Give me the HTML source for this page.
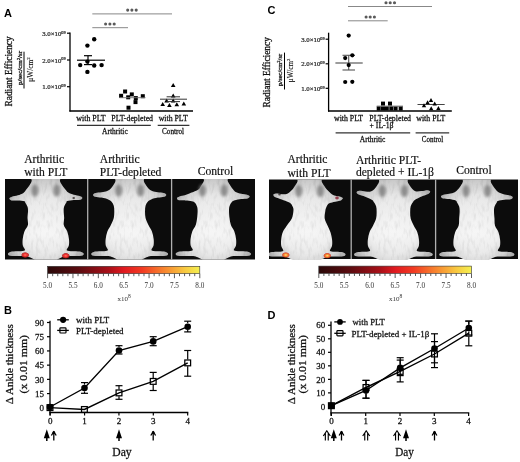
<!DOCTYPE html><html><head><meta charset="utf-8"><style>html,body{margin:0;padding:0;background:#fff;width:520px;height:462px;overflow:hidden;}svg{display:block;will-change:transform;filter:blur(0.3px)}</style></head><body>
<svg width="520" height="462" viewBox="0 0 520 462">
<defs>
<linearGradient id="cbar" x1="0" x2="1" y1="0" y2="0">
<stop offset="0" stop-color="#2a0808"/>
<stop offset="0.2" stop-color="#5a0c10"/>
<stop offset="0.4" stop-color="#a81018"/>
<stop offset="0.5" stop-color="#e01a20"/>
<stop offset="0.62" stop-color="#f23a22"/>
<stop offset="0.78" stop-color="#f88c30"/>
<stop offset="0.9" stop-color="#f8c840"/>
<stop offset="1" stop-color="#f4f050"/>
</linearGradient>
<radialGradient id="spot" cx="0.5" cy="0.5" r="0.5">
<stop offset="0" stop-color="#ff7a60"/>
<stop offset="0.45" stop-color="#f03030"/>
<stop offset="0.8" stop-color="#b81818" stop-opacity="0.8"/>
<stop offset="1" stop-color="#801010" stop-opacity="0"/>
</radialGradient>
<radialGradient id="spot2" cx="0.5" cy="0.5" r="0.5">
<stop offset="0" stop-color="#ffe080"/>
<stop offset="0.4" stop-color="#f89030"/>
<stop offset="0.75" stop-color="#e04020" stop-opacity="0.85"/>
<stop offset="1" stop-color="#a02010" stop-opacity="0"/>
</radialGradient>
<linearGradient id="body" x1="0" x2="0" y1="0" y2="1">
<stop offset="0" stop-color="#dedede"/>
<stop offset="0.35" stop-color="#eeeeee"/>
<stop offset="0.7" stop-color="#f7f7f7"/>
<stop offset="1" stop-color="#ebebeb"/>
</linearGradient>
<radialGradient id="edge" cx="0.5" cy="0.6" r="0.55">
<stop offset="0" stop-color="#000" stop-opacity="0"/>
<stop offset="0.55" stop-color="#000" stop-opacity="0.02"/>
<stop offset="0.85" stop-color="#000" stop-opacity="0.12"/>
<stop offset="1" stop-color="#000" stop-opacity="0.25"/>
</radialGradient>
<filter id="fur" x="0" y="0" width="100%" height="100%" filterUnits="userSpaceOnUse">
<feTurbulence type="fractalNoise" baseFrequency="0.35 0.12" numOctaves="2" seed="7" result="n"/>
<feColorMatrix in="n" type="matrix" values="0 0 0 0 0  0 0 0 0 0  0 0 0 0 0  1.6 0 0 0 -0.75" result="a"/>
<feComposite in="a" in2="SourceGraphic" operator="in" result="c"/>
<feGaussianBlur in="c" stdDeviation="0.4"/>
</filter>
<filter id="blur" x="-10%" y="-10%" width="120%" height="120%"><feGaussianBlur stdDeviation="0.7"/></filter>
<filter id="blur2" x="-50%" y="-50%" width="200%" height="200%"><feGaussianBlur stdDeviation="1.5"/></filter>
<clipPath id="pc"><rect x="0" y="0" width="83" height="80.5"/></clipPath>

</defs>
<text x="4" y="17" style="font-family:'Liberation Sans',sans-serif;font-size:11px;font-weight:bold" fill="#000" text-anchor="start" >A</text>
<text transform="translate(12,71.4) rotate(-90)" x="0" y="0" style="font-family:'Liberation Serif',serif;font-size:9.5px" fill="#111" text-anchor="middle" textLength="70" lengthAdjust="spacingAndGlyphs" stroke="#111" stroke-width="0.28">Radiant Efficiency</text>
<text transform="translate(21.8,68) rotate(-90)" x="0" y="0" style="font-family:'Liberation Serif',serif;font-size:6.5px" fill="#111" text-anchor="middle" textLength="34" lengthAdjust="spacingAndGlyphs" stroke="#111" stroke-width="0.28">p/sec/cm<tspan dy="-2" font-size="4.5">2</tspan><tspan dy="2">/sr</tspan></text>
<line x1="24" y1="51.7" x2="24" y2="88.5" stroke="#000" stroke-width="1.0"/>
<text transform="translate(32.8,69.5) rotate(-90)" x="0" y="0" style="font-family:'Liberation Serif',serif;font-size:7.6px" fill="#111" text-anchor="middle" textLength="24.5" lengthAdjust="spacingAndGlyphs" stroke="#111" stroke-width="0.12">&#956;W/cm<tspan dy="-2.5" font-size="5">2</tspan></text>
<line x1="70" y1="32.5" x2="70" y2="111.6" stroke="#000" stroke-width="1.3"/>
<line x1="69.4" y1="111" x2="193" y2="111" stroke="#000" stroke-width="1.3"/>
<line x1="67" y1="33.2" x2="70" y2="33.2" stroke="#000" stroke-width="1.2"/>
<text x="65.5" y="35.800000000000004" style="font-family:'Liberation Serif',serif;font-size:6.8px" fill="#222" stroke="#222" stroke-width="0.22" text-anchor="end">3.0&#215;10<tspan dy="-2.3" font-size="4.2">09</tspan></text>
<line x1="67" y1="60.0" x2="70" y2="60.0" stroke="#000" stroke-width="1.2"/>
<text x="65.5" y="62.6" style="font-family:'Liberation Serif',serif;font-size:6.8px" fill="#222" stroke="#222" stroke-width="0.22" text-anchor="end">2.0&#215;10<tspan dy="-2.3" font-size="4.2">09</tspan></text>
<line x1="67" y1="86.7" x2="70" y2="86.7" stroke="#000" stroke-width="1.2"/>
<text x="65.5" y="89.3" style="font-family:'Liberation Serif',serif;font-size:6.8px" fill="#222" stroke="#222" stroke-width="0.22" text-anchor="end">1.0&#215;10<tspan dy="-2.3" font-size="4.2">09</tspan></text>
<line x1="92.3" y1="13.9" x2="172" y2="13.9" stroke="#888" stroke-width="1.0"/>
<line x1="92.3" y1="27.7" x2="128" y2="27.7" stroke="#888" stroke-width="1.0"/>
<circle cx="127.7" cy="10.1" r="1.55" fill="#5a5a5a" stroke="none" stroke-width="0"/>
<circle cx="131.9" cy="10.1" r="1.55" fill="#5a5a5a" stroke="none" stroke-width="0"/>
<circle cx="136.2" cy="10.1" r="1.55" fill="#5a5a5a" stroke="none" stroke-width="0"/>
<circle cx="105.6" cy="24" r="1.55" fill="#5a5a5a" stroke="none" stroke-width="0"/>
<circle cx="109.9" cy="24" r="1.55" fill="#5a5a5a" stroke="none" stroke-width="0"/>
<circle cx="114.2" cy="24" r="1.55" fill="#5a5a5a" stroke="none" stroke-width="0"/>
<circle cx="94.2" cy="39.2" r="2.2" fill="#000" stroke="none" stroke-width="0"/>
<circle cx="87.4" cy="45.6" r="2.2" fill="#000" stroke="none" stroke-width="0"/>
<circle cx="87.4" cy="61.6" r="2.2" fill="#000" stroke="none" stroke-width="0"/>
<circle cx="80.2" cy="65.1" r="2.2" fill="#000" stroke="none" stroke-width="0"/>
<circle cx="94.2" cy="65.5" r="2.2" fill="#000" stroke="none" stroke-width="0"/>
<circle cx="101.6" cy="65.1" r="2.2" fill="#000" stroke="none" stroke-width="0"/>
<circle cx="87.4" cy="71.9" r="2.2" fill="#000" stroke="none" stroke-width="0"/>
<line x1="77" y1="60.2" x2="105" y2="60.2" stroke="#000" stroke-width="1.2"/>
<line x1="84" y1="55.7" x2="92" y2="55.7" stroke="#000" stroke-width="1.2"/>
<line x1="88" y1="55.7" x2="88" y2="64.6" stroke="#000" stroke-width="1.2"/>
<line x1="84" y1="64.6" x2="92" y2="64.6" stroke="#000" stroke-width="1.2"/>
<rect x="119.1" y="93.8" width="4.0" height="4.0" fill="#000" stroke="none" stroke-width="0"/>
<rect x="123.1" y="89.5" width="4.0" height="4.0" fill="#000" stroke="none" stroke-width="0"/>
<rect x="126.19999999999999" y="95.3" width="4.0" height="4.0" fill="#000" stroke="none" stroke-width="0"/>
<rect x="129.8" y="92.4" width="4.0" height="4.0" fill="#000" stroke="none" stroke-width="0"/>
<rect x="133.8" y="96.1" width="4.0" height="4.0" fill="#000" stroke="none" stroke-width="0"/>
<rect x="133.5" y="100.1" width="4.0" height="4.0" fill="#000" stroke="none" stroke-width="0"/>
<rect x="140.8" y="94.2" width="4.0" height="4.0" fill="#000" stroke="none" stroke-width="0"/>
<rect x="126.5" y="105.7" width="4.0" height="4.0" fill="#000" stroke="none" stroke-width="0"/>
<line x1="119.5" y1="97.7" x2="145.5" y2="97.7" stroke="#777" stroke-width="0.9"/>
<polygon points="173.2,82.9 175.5,86.9 170.89999999999998,86.9" fill="#000"/>
<polygon points="173.2,93.4 175.5,97.4 170.89999999999998,97.4" fill="#000"/>
<polygon points="166.6,98.6 168.9,102.6 164.29999999999998,102.6" fill="#000"/>
<polygon points="173.2,98.4 175.5,102.4 170.89999999999998,102.4" fill="#000"/>
<polygon points="162.7,101.9 165.0,105.9 160.39999999999998,105.9" fill="#000"/>
<polygon points="169.4,102.9 171.70000000000002,106.9 167.1,106.9" fill="#000"/>
<polygon points="176.8,102.3 179.10000000000002,106.3 174.5,106.3" fill="#000"/>
<polygon points="183.8,101.5 186.10000000000002,105.5 181.5,105.5" fill="#000"/>
<line x1="160" y1="99.2" x2="187" y2="99.2" stroke="#333" stroke-width="1.0"/>
<line x1="166.6" y1="96.8" x2="180" y2="96.8" stroke="#333" stroke-width="1.0"/>
<line x1="166.6" y1="101.6" x2="180" y2="101.6" stroke="#333" stroke-width="1.0"/>
<text x="91" y="120.8" style="font-family:'Liberation Serif',serif;font-size:8px;font-weight:normal" fill="#111" text-anchor="middle" textLength="29.3" lengthAdjust="spacingAndGlyphs"  stroke="#111" stroke-width="0.26">with PLT</text>
<text x="132.2" y="120.8" style="font-family:'Liberation Serif',serif;font-size:8px;font-weight:normal" fill="#111" text-anchor="middle" textLength="41.7" lengthAdjust="spacingAndGlyphs"  stroke="#111" stroke-width="0.26">PLT-depleted</text>
<text x="173.2" y="120.8" style="font-family:'Liberation Serif',serif;font-size:8px;font-weight:normal" fill="#111" text-anchor="middle" textLength="29" lengthAdjust="spacingAndGlyphs"  stroke="#111" stroke-width="0.26">with PLT</text>
<line x1="77" y1="125.3" x2="150.8" y2="125.3" stroke="#333" stroke-width="1.3"/>
<line x1="157.7" y1="125.3" x2="189.4" y2="125.3" stroke="#333" stroke-width="1.3"/>
<text x="114.9" y="133.7" style="font-family:'Liberation Serif',serif;font-size:8px;font-weight:normal" fill="#111" text-anchor="middle" textLength="25.7" lengthAdjust="spacingAndGlyphs"  stroke="#111" stroke-width="0.26">Arthritic</text>
<text x="173" y="133.7" style="font-family:'Liberation Serif',serif;font-size:8px;font-weight:normal" fill="#111" text-anchor="middle" textLength="22" lengthAdjust="spacingAndGlyphs"  stroke="#111" stroke-width="0.26">Control</text>
<text x="267.5" y="13.5" style="font-family:'Liberation Sans',sans-serif;font-size:11px;font-weight:bold" fill="#000" text-anchor="start" >C</text>
<text transform="translate(270.2,72.3) rotate(-90)" x="0" y="0" style="font-family:'Liberation Serif',serif;font-size:9.5px" fill="#111" text-anchor="middle" textLength="70.3" lengthAdjust="spacingAndGlyphs" stroke="#111" stroke-width="0.28">Radiant Efficiency</text>
<text transform="translate(282.2,69.9) rotate(-90)" x="0" y="0" style="font-family:'Liberation Serif',serif;font-size:6.5px" fill="#111" text-anchor="middle" textLength="32" lengthAdjust="spacingAndGlyphs" stroke="#111" stroke-width="0.28">p/sec/cm<tspan dy="-2" font-size="4.5">2</tspan><tspan dy="2">/sr</tspan></text>
<line x1="284.5" y1="52.6" x2="284.5" y2="89.5" stroke="#000" stroke-width="1.0"/>
<text transform="translate(292.8,70.4) rotate(-90)" x="0" y="0" style="font-family:'Liberation Serif',serif;font-size:7.6px" fill="#111" text-anchor="middle" textLength="23.5" lengthAdjust="spacingAndGlyphs" stroke="#111" stroke-width="0.12">&#956;W/cm<tspan dy="-2.5" font-size="5">2</tspan></text>
<line x1="328.6" y1="32.7" x2="328.6" y2="111.6" stroke="#000" stroke-width="1.3"/>
<line x1="328" y1="111" x2="451.8" y2="111" stroke="#000" stroke-width="1.3"/>
<line x1="325.6" y1="39.2" x2="328.6" y2="39.2" stroke="#000" stroke-width="1.2"/>
<text x="324.5" y="41.800000000000004" style="font-family:'Liberation Serif',serif;font-size:6.8px" fill="#222" stroke="#222" stroke-width="0.22" text-anchor="end">3.0&#215;10<tspan dy="-2.3" font-size="4.2">09</tspan></text>
<line x1="325.6" y1="63.8" x2="328.6" y2="63.8" stroke="#000" stroke-width="1.2"/>
<text x="324.5" y="66.39999999999999" style="font-family:'Liberation Serif',serif;font-size:6.8px" fill="#222" stroke="#222" stroke-width="0.22" text-anchor="end">2.0&#215;10<tspan dy="-2.3" font-size="4.2">09</tspan></text>
<line x1="325.6" y1="88.3" x2="328.6" y2="88.3" stroke="#000" stroke-width="1.2"/>
<text x="324.5" y="90.89999999999999" style="font-family:'Liberation Serif',serif;font-size:6.8px" fill="#222" stroke="#222" stroke-width="0.22" text-anchor="end">1.0&#215;10<tspan dy="-2.3" font-size="4.2">09</tspan></text>
<line x1="348" y1="6.5" x2="432" y2="6.5" stroke="#888" stroke-width="1.0"/>
<line x1="348" y1="20.8" x2="387.7" y2="20.8" stroke="#888" stroke-width="1.0"/>
<circle cx="386" cy="2.8" r="1.55" fill="#5a5a5a" stroke="none" stroke-width="0"/>
<circle cx="390.2" cy="2.8" r="1.55" fill="#5a5a5a" stroke="none" stroke-width="0"/>
<circle cx="394.5" cy="2.8" r="1.55" fill="#5a5a5a" stroke="none" stroke-width="0"/>
<circle cx="366.1" cy="17" r="1.55" fill="#5a5a5a" stroke="none" stroke-width="0"/>
<circle cx="370.2" cy="17" r="1.55" fill="#5a5a5a" stroke="none" stroke-width="0"/>
<circle cx="374.4" cy="17" r="1.55" fill="#5a5a5a" stroke="none" stroke-width="0"/>
<line x1="335.4" y1="63" x2="362.7" y2="63" stroke="#666" stroke-width="1.3"/>
<line x1="342.5" y1="55.3" x2="355" y2="55.3" stroke="#555" stroke-width="1.1"/>
<line x1="348.7" y1="55.3" x2="348.7" y2="70" stroke="#555" stroke-width="1.1"/>
<line x1="342.5" y1="70" x2="355" y2="70" stroke="#555" stroke-width="1.1"/>
<circle cx="348.7" cy="35.6" r="2.1" fill="#000" stroke="none" stroke-width="0"/>
<circle cx="345.2" cy="58.1" r="2.1" fill="#000" stroke="none" stroke-width="0"/>
<circle cx="352.3" cy="55.3" r="2.1" fill="#000" stroke="none" stroke-width="0"/>
<circle cx="348.7" cy="65.1" r="2.1" fill="#000" stroke="none" stroke-width="0"/>
<circle cx="345.2" cy="82" r="2.1" fill="#000" stroke="none" stroke-width="0"/>
<circle cx="352.3" cy="81.8" r="2.1" fill="#000" stroke="none" stroke-width="0"/>
<rect x="381.0" y="101.6" width="4.0" height="4.0" fill="#000" stroke="none" stroke-width="0"/>
<rect x="388.0" y="101.6" width="4.0" height="4.0" fill="#000" stroke="none" stroke-width="0"/>
<rect x="376.7" y="106.5" width="4.0" height="4.0" fill="#000" stroke="none" stroke-width="0"/>
<rect x="381.0" y="106.5" width="4.0" height="4.0" fill="#000" stroke="none" stroke-width="0"/>
<rect x="384.8" y="106.5" width="4.0" height="4.0" fill="#000" stroke="none" stroke-width="0"/>
<rect x="389.3" y="106.5" width="4.0" height="4.0" fill="#000" stroke="none" stroke-width="0"/>
<rect x="393.6" y="106.5" width="4.0" height="4.0" fill="#000" stroke="none" stroke-width="0"/>
<rect x="398.7" y="106.5" width="4.0" height="4.0" fill="#000" stroke="none" stroke-width="0"/>
<line x1="376.7" y1="106.2" x2="403" y2="106.2" stroke="#555" stroke-width="1.0"/>
<line x1="417.5" y1="104.5" x2="444.7" y2="104.5" stroke="#444" stroke-width="1.0"/>
<polygon points="431,97.9 433.2,101.9 428.8,101.9" fill="#000"/>
<polygon points="427.6,100.2 429.8,104.2 425.40000000000003,104.2" fill="#000"/>
<polygon points="424,103.3 426.2,107.3 421.8,107.3" fill="#000"/>
<polygon points="434.7,101.6 436.9,105.6 432.5,105.6" fill="#000"/>
<polygon points="431.2,106.3 433.4,110.3 429.0,110.3" fill="#000"/>
<polygon points="438.4,106.0 440.59999999999997,110.0 436.2,110.0" fill="#000"/>
<text x="348.5" y="120.8" style="font-family:'Liberation Serif',serif;font-size:8px;font-weight:normal" fill="#111" text-anchor="middle" textLength="29" lengthAdjust="spacingAndGlyphs"  stroke="#111" stroke-width="0.26">with PLT</text>
<text x="390.2" y="120.8" style="font-family:'Liberation Serif',serif;font-size:8px;font-weight:normal" fill="#111" text-anchor="middle" textLength="41.7" lengthAdjust="spacingAndGlyphs"  stroke="#111" stroke-width="0.26">PLT-depleted</text>
<text x="381.5" y="128.2" style="font-family:'Liberation Serif',serif;font-size:8px;font-weight:normal" fill="#111" text-anchor="middle" textLength="24" lengthAdjust="spacingAndGlyphs"  stroke="#111" stroke-width="0.26">+ IL-1&#946;</text>
<text x="430.8" y="120.8" style="font-family:'Liberation Serif',serif;font-size:8px;font-weight:normal" fill="#111" text-anchor="middle" textLength="29" lengthAdjust="spacingAndGlyphs"  stroke="#111" stroke-width="0.26">with PLT</text>
<line x1="335.6" y1="132.8" x2="410.2" y2="132.8" stroke="#333" stroke-width="1.3"/>
<line x1="415.6" y1="132.8" x2="449.2" y2="132.8" stroke="#333" stroke-width="1.3"/>
<text x="372.6" y="141.5" style="font-family:'Liberation Serif',serif;font-size:8px;font-weight:normal" fill="#111" text-anchor="middle" textLength="25.6" lengthAdjust="spacingAndGlyphs"  stroke="#111" stroke-width="0.26">Arthritic</text>
<text x="432.5" y="141.5" style="font-family:'Liberation Serif',serif;font-size:8px;font-weight:normal" fill="#111" text-anchor="middle" textLength="21.5" lengthAdjust="spacingAndGlyphs"  stroke="#111" stroke-width="0.26">Control</text>
<rect x="5" y="179" width="250" height="80.5" fill="#0c0c0c"/>
<g transform="translate(5,179) scale(0.996,1)"><g clip-path="url(#pc)">
<path d="M41.00,-12.00 C36.43,-12.00 29.67,-6.33 27.30,-4.00 C24.93,-1.67 27.22,0.33 26.80,2.00 C26.38,3.67 25.57,4.75 24.80,6.00 C24.03,7.25 23.25,8.18 22.20,9.50 C21.15,10.82 20.03,12.77 18.50,13.90 C16.97,15.03 14.92,15.63 13.00,16.26 C11.08,16.89 8.43,17.16 7.00,17.70 C5.57,18.24 4.48,18.88 4.40,19.50 C4.32,20.12 5.07,21.06 6.50,21.40 C7.93,21.74 10.83,21.41 13.00,21.56 C15.17,21.71 18.27,21.93 19.50,22.30 C20.73,22.67 19.88,22.85 20.40,23.76 C20.92,24.67 22.15,26.39 22.60,27.76 C23.05,29.13 23.10,30.13 23.10,32.00 C23.10,33.87 22.62,36.67 22.60,39.00 C22.58,41.33 23.52,43.75 23.00,46.00 C22.48,48.25 20.37,50.17 19.50,52.50 C18.63,54.83 18.07,57.67 17.80,60.00 C17.53,62.33 17.53,64.62 17.90,66.50 C18.27,68.38 20.61,70.33 20.00,71.30 C19.39,72.27 16.38,72.08 14.25,72.30 C12.12,72.52 9.08,72.28 7.25,72.60 C5.42,72.92 3.75,73.57 3.25,74.20 C2.75,74.83 2.92,75.93 4.25,76.40 C5.58,76.87 8.54,76.90 11.25,77.00 C13.96,77.10 18.21,76.78 20.50,77.00 C22.79,77.22 23.58,77.75 25.00,78.30 C26.42,78.85 27.58,79.52 29.00,80.30 C30.42,81.08 30.25,82.55 33.50,83.00 C36.75,83.45 45.25,83.45 48.50,83.00 C51.75,82.55 51.58,81.08 53.00,80.30 C54.42,79.52 55.58,78.85 57.00,78.30 C58.42,77.75 59.21,77.22 61.50,77.00 C63.79,76.78 68.04,77.10 70.75,77.00 C73.46,76.90 76.42,76.87 77.75,76.40 C79.08,75.93 79.25,74.83 78.75,74.20 C78.25,73.57 76.58,72.92 74.75,72.60 C72.92,72.28 69.88,72.52 67.75,72.30 C65.62,72.08 62.61,72.27 62.00,71.30 C61.39,70.33 63.73,68.38 64.10,66.50 C64.47,64.62 64.47,62.33 64.20,60.00 C63.93,57.67 63.37,54.83 62.50,52.50 C61.63,50.17 59.52,48.25 59.00,46.00 C58.48,43.75 59.42,41.33 59.40,39.00 C59.38,36.67 58.90,33.91 58.90,32.00 C58.90,30.09 58.95,28.96 59.40,27.55 C59.85,26.14 61.08,24.48 61.60,23.55 C62.12,22.62 61.27,22.38 62.50,21.95 C63.73,21.52 66.83,21.21 69.00,21.00 C71.17,20.79 74.07,21.07 75.50,20.70 C76.93,20.33 77.68,19.42 77.60,18.80 C77.52,18.18 76.43,17.52 75.00,17.00 C73.57,16.48 70.92,16.28 69.00,15.70 C67.08,15.13 65.03,14.58 63.50,13.55 C61.97,12.52 60.85,10.76 59.80,9.50 C58.75,8.24 57.97,7.25 57.20,6.00 C56.43,4.75 55.62,3.67 55.20,2.00 C54.78,0.33 57.07,-1.67 54.70,-4.00 C52.33,-6.33 45.57,-12.00 41.00,-12.00 Z" fill="url(#body)" filter="url(#blur)"/>
<path d="M41.00,-12.00 C36.43,-12.00 29.67,-6.33 27.30,-4.00 C24.93,-1.67 27.22,0.33 26.80,2.00 C26.38,3.67 25.57,4.75 24.80,6.00 C24.03,7.25 23.25,8.18 22.20,9.50 C21.15,10.82 20.03,12.77 18.50,13.90 C16.97,15.03 14.92,15.63 13.00,16.26 C11.08,16.89 8.43,17.16 7.00,17.70 C5.57,18.24 4.48,18.88 4.40,19.50 C4.32,20.12 5.07,21.06 6.50,21.40 C7.93,21.74 10.83,21.41 13.00,21.56 C15.17,21.71 18.27,21.93 19.50,22.30 C20.73,22.67 19.88,22.85 20.40,23.76 C20.92,24.67 22.15,26.39 22.60,27.76 C23.05,29.13 23.10,30.13 23.10,32.00 C23.10,33.87 22.62,36.67 22.60,39.00 C22.58,41.33 23.52,43.75 23.00,46.00 C22.48,48.25 20.37,50.17 19.50,52.50 C18.63,54.83 18.07,57.67 17.80,60.00 C17.53,62.33 17.53,64.62 17.90,66.50 C18.27,68.38 20.61,70.33 20.00,71.30 C19.39,72.27 16.38,72.08 14.25,72.30 C12.12,72.52 9.08,72.28 7.25,72.60 C5.42,72.92 3.75,73.57 3.25,74.20 C2.75,74.83 2.92,75.93 4.25,76.40 C5.58,76.87 8.54,76.90 11.25,77.00 C13.96,77.10 18.21,76.78 20.50,77.00 C22.79,77.22 23.58,77.75 25.00,78.30 C26.42,78.85 27.58,79.52 29.00,80.30 C30.42,81.08 30.25,82.55 33.50,83.00 C36.75,83.45 45.25,83.45 48.50,83.00 C51.75,82.55 51.58,81.08 53.00,80.30 C54.42,79.52 55.58,78.85 57.00,78.30 C58.42,77.75 59.21,77.22 61.50,77.00 C63.79,76.78 68.04,77.10 70.75,77.00 C73.46,76.90 76.42,76.87 77.75,76.40 C79.08,75.93 79.25,74.83 78.75,74.20 C78.25,73.57 76.58,72.92 74.75,72.60 C72.92,72.28 69.88,72.52 67.75,72.30 C65.62,72.08 62.61,72.27 62.00,71.30 C61.39,70.33 63.73,68.38 64.10,66.50 C64.47,64.62 64.47,62.33 64.20,60.00 C63.93,57.67 63.37,54.83 62.50,52.50 C61.63,50.17 59.52,48.25 59.00,46.00 C58.48,43.75 59.42,41.33 59.40,39.00 C59.38,36.67 58.90,33.91 58.90,32.00 C58.90,30.09 58.95,28.96 59.40,27.55 C59.85,26.14 61.08,24.48 61.60,23.55 C62.12,22.62 61.27,22.38 62.50,21.95 C63.73,21.52 66.83,21.21 69.00,21.00 C71.17,20.79 74.07,21.07 75.50,20.70 C76.93,20.33 77.68,19.42 77.60,18.80 C77.52,18.18 76.43,17.52 75.00,17.00 C73.57,16.48 70.92,16.28 69.00,15.70 C67.08,15.13 65.03,14.58 63.50,13.55 C61.97,12.52 60.85,10.76 59.80,9.50 C58.75,8.24 57.97,7.25 57.20,6.00 C56.43,4.75 55.62,3.67 55.20,2.00 C54.78,0.33 57.07,-1.67 54.70,-4.00 C52.33,-6.33 45.57,-12.00 41.00,-12.00 Z" fill="url(#edge)" filter="url(#blur)"/>
<path d="M41.00,-12.00 C36.43,-12.00 29.67,-6.33 27.30,-4.00 C24.93,-1.67 27.22,0.33 26.80,2.00 C26.38,3.67 25.57,4.75 24.80,6.00 C24.03,7.25 23.25,8.18 22.20,9.50 C21.15,10.82 20.03,12.77 18.50,13.90 C16.97,15.03 14.92,15.63 13.00,16.26 C11.08,16.89 8.43,17.16 7.00,17.70 C5.57,18.24 4.48,18.88 4.40,19.50 C4.32,20.12 5.07,21.06 6.50,21.40 C7.93,21.74 10.83,21.41 13.00,21.56 C15.17,21.71 18.27,21.93 19.50,22.30 C20.73,22.67 19.88,22.85 20.40,23.76 C20.92,24.67 22.15,26.39 22.60,27.76 C23.05,29.13 23.10,30.13 23.10,32.00 C23.10,33.87 22.62,36.67 22.60,39.00 C22.58,41.33 23.52,43.75 23.00,46.00 C22.48,48.25 20.37,50.17 19.50,52.50 C18.63,54.83 18.07,57.67 17.80,60.00 C17.53,62.33 17.53,64.62 17.90,66.50 C18.27,68.38 20.61,70.33 20.00,71.30 C19.39,72.27 16.38,72.08 14.25,72.30 C12.12,72.52 9.08,72.28 7.25,72.60 C5.42,72.92 3.75,73.57 3.25,74.20 C2.75,74.83 2.92,75.93 4.25,76.40 C5.58,76.87 8.54,76.90 11.25,77.00 C13.96,77.10 18.21,76.78 20.50,77.00 C22.79,77.22 23.58,77.75 25.00,78.30 C26.42,78.85 27.58,79.52 29.00,80.30 C30.42,81.08 30.25,82.55 33.50,83.00 C36.75,83.45 45.25,83.45 48.50,83.00 C51.75,82.55 51.58,81.08 53.00,80.30 C54.42,79.52 55.58,78.85 57.00,78.30 C58.42,77.75 59.21,77.22 61.50,77.00 C63.79,76.78 68.04,77.10 70.75,77.00 C73.46,76.90 76.42,76.87 77.75,76.40 C79.08,75.93 79.25,74.83 78.75,74.20 C78.25,73.57 76.58,72.92 74.75,72.60 C72.92,72.28 69.88,72.52 67.75,72.30 C65.62,72.08 62.61,72.27 62.00,71.30 C61.39,70.33 63.73,68.38 64.10,66.50 C64.47,64.62 64.47,62.33 64.20,60.00 C63.93,57.67 63.37,54.83 62.50,52.50 C61.63,50.17 59.52,48.25 59.00,46.00 C58.48,43.75 59.42,41.33 59.40,39.00 C59.38,36.67 58.90,33.91 58.90,32.00 C58.90,30.09 58.95,28.96 59.40,27.55 C59.85,26.14 61.08,24.48 61.60,23.55 C62.12,22.62 61.27,22.38 62.50,21.95 C63.73,21.52 66.83,21.21 69.00,21.00 C71.17,20.79 74.07,21.07 75.50,20.70 C76.93,20.33 77.68,19.42 77.60,18.80 C77.52,18.18 76.43,17.52 75.00,17.00 C73.57,16.48 70.92,16.28 69.00,15.70 C67.08,15.13 65.03,14.58 63.50,13.55 C61.97,12.52 60.85,10.76 59.80,9.50 C58.75,8.24 57.97,7.25 57.20,6.00 C56.43,4.75 55.62,3.67 55.20,2.00 C54.78,0.33 57.07,-1.67 54.70,-4.00 C52.33,-6.33 45.57,-12.00 41.00,-12.00 Z" fill="#000" opacity="0.1" filter="url(#fur)"/>
<ellipse cx="30" cy="11.5" rx="3.6" ry="6.2" fill="#808080" opacity="0.85" filter="url(#blur2)"/>
<ellipse cx="52" cy="11.5" rx="3.6" ry="6.2" fill="#808080" opacity="0.85" filter="url(#blur2)"/>
</g></g>
<g transform="translate(88.7,179) scale(0.999,1)"><g clip-path="url(#pc)">
<path d="M41.00,-12.00 C36.43,-12.00 29.67,-6.33 27.30,-4.00 C24.93,-1.67 27.22,0.33 26.80,2.00 C26.38,3.67 25.57,4.75 24.80,6.00 C24.03,7.25 23.25,8.49 22.20,9.50 C21.15,10.51 20.03,11.42 18.50,12.05 C16.97,12.68 14.92,12.98 13.00,13.30 C11.08,13.62 8.43,13.58 7.00,14.00 C5.57,14.42 4.48,15.18 4.40,15.80 C4.32,16.42 5.07,17.23 6.50,17.70 C7.93,18.17 10.83,18.14 13.00,18.60 C15.17,19.06 17.85,19.77 19.50,20.45 C21.15,21.12 21.97,21.62 22.90,22.65 C23.83,23.68 24.65,25.09 25.10,26.65 C25.55,28.21 25.60,29.94 25.60,32.00 C25.60,34.06 25.67,36.67 25.10,39.00 C24.53,41.33 23.27,43.75 22.20,46.00 C21.13,48.25 19.57,50.17 18.70,52.50 C17.83,54.83 17.27,57.67 17.00,60.00 C16.73,62.33 16.73,64.62 17.10,66.50 C17.47,68.38 19.74,70.33 19.20,71.30 C18.66,72.27 15.91,72.08 13.85,72.30 C11.79,72.52 8.68,72.28 6.85,72.60 C5.02,72.92 3.35,73.57 2.85,74.20 C2.35,74.83 2.52,75.93 3.85,76.40 C5.18,76.87 8.21,76.90 10.85,77.00 C13.49,77.10 17.47,76.78 19.70,77.00 C21.93,77.22 22.78,77.75 24.20,78.30 C25.62,78.85 26.78,79.52 28.20,80.30 C29.62,81.08 29.18,82.55 32.70,83.00 C36.22,83.45 45.78,83.45 49.30,83.00 C52.82,82.55 52.38,81.08 53.80,80.30 C55.22,79.52 56.38,78.85 57.80,78.30 C59.22,77.75 60.07,77.22 62.30,77.00 C64.53,76.78 68.51,77.10 71.15,77.00 C73.79,76.90 76.82,76.87 78.15,76.40 C79.48,75.93 79.65,74.83 79.15,74.20 C78.65,73.57 76.98,72.92 75.15,72.60 C73.32,72.28 70.21,72.52 68.15,72.30 C66.09,72.08 63.34,72.27 62.80,71.30 C62.26,70.33 64.53,68.38 64.90,66.50 C65.27,64.62 65.27,62.33 65.00,60.00 C64.73,57.67 64.17,54.83 63.30,52.50 C62.43,50.17 60.87,48.25 59.80,46.00 C58.73,43.75 57.47,41.33 56.90,39.00 C56.33,36.67 56.40,34.06 56.40,32.00 C56.40,29.94 56.45,28.21 56.90,26.65 C57.35,25.09 58.17,23.68 59.10,22.65 C60.03,21.62 60.85,21.12 62.50,20.45 C64.15,19.77 66.83,19.06 69.00,18.60 C71.17,18.14 74.07,18.17 75.50,17.70 C76.93,17.23 77.68,16.42 77.60,15.80 C77.52,15.18 76.43,14.42 75.00,14.00 C73.57,13.58 70.92,13.62 69.00,13.30 C67.08,12.98 65.03,12.68 63.50,12.05 C61.97,11.42 60.85,10.51 59.80,9.50 C58.75,8.49 57.97,7.25 57.20,6.00 C56.43,4.75 55.62,3.67 55.20,2.00 C54.78,0.33 57.07,-1.67 54.70,-4.00 C52.33,-6.33 45.57,-12.00 41.00,-12.00 Z" fill="url(#body)" filter="url(#blur)"/>
<path d="M41.00,-12.00 C36.43,-12.00 29.67,-6.33 27.30,-4.00 C24.93,-1.67 27.22,0.33 26.80,2.00 C26.38,3.67 25.57,4.75 24.80,6.00 C24.03,7.25 23.25,8.49 22.20,9.50 C21.15,10.51 20.03,11.42 18.50,12.05 C16.97,12.68 14.92,12.98 13.00,13.30 C11.08,13.62 8.43,13.58 7.00,14.00 C5.57,14.42 4.48,15.18 4.40,15.80 C4.32,16.42 5.07,17.23 6.50,17.70 C7.93,18.17 10.83,18.14 13.00,18.60 C15.17,19.06 17.85,19.77 19.50,20.45 C21.15,21.12 21.97,21.62 22.90,22.65 C23.83,23.68 24.65,25.09 25.10,26.65 C25.55,28.21 25.60,29.94 25.60,32.00 C25.60,34.06 25.67,36.67 25.10,39.00 C24.53,41.33 23.27,43.75 22.20,46.00 C21.13,48.25 19.57,50.17 18.70,52.50 C17.83,54.83 17.27,57.67 17.00,60.00 C16.73,62.33 16.73,64.62 17.10,66.50 C17.47,68.38 19.74,70.33 19.20,71.30 C18.66,72.27 15.91,72.08 13.85,72.30 C11.79,72.52 8.68,72.28 6.85,72.60 C5.02,72.92 3.35,73.57 2.85,74.20 C2.35,74.83 2.52,75.93 3.85,76.40 C5.18,76.87 8.21,76.90 10.85,77.00 C13.49,77.10 17.47,76.78 19.70,77.00 C21.93,77.22 22.78,77.75 24.20,78.30 C25.62,78.85 26.78,79.52 28.20,80.30 C29.62,81.08 29.18,82.55 32.70,83.00 C36.22,83.45 45.78,83.45 49.30,83.00 C52.82,82.55 52.38,81.08 53.80,80.30 C55.22,79.52 56.38,78.85 57.80,78.30 C59.22,77.75 60.07,77.22 62.30,77.00 C64.53,76.78 68.51,77.10 71.15,77.00 C73.79,76.90 76.82,76.87 78.15,76.40 C79.48,75.93 79.65,74.83 79.15,74.20 C78.65,73.57 76.98,72.92 75.15,72.60 C73.32,72.28 70.21,72.52 68.15,72.30 C66.09,72.08 63.34,72.27 62.80,71.30 C62.26,70.33 64.53,68.38 64.90,66.50 C65.27,64.62 65.27,62.33 65.00,60.00 C64.73,57.67 64.17,54.83 63.30,52.50 C62.43,50.17 60.87,48.25 59.80,46.00 C58.73,43.75 57.47,41.33 56.90,39.00 C56.33,36.67 56.40,34.06 56.40,32.00 C56.40,29.94 56.45,28.21 56.90,26.65 C57.35,25.09 58.17,23.68 59.10,22.65 C60.03,21.62 60.85,21.12 62.50,20.45 C64.15,19.77 66.83,19.06 69.00,18.60 C71.17,18.14 74.07,18.17 75.50,17.70 C76.93,17.23 77.68,16.42 77.60,15.80 C77.52,15.18 76.43,14.42 75.00,14.00 C73.57,13.58 70.92,13.62 69.00,13.30 C67.08,12.98 65.03,12.68 63.50,12.05 C61.97,11.42 60.85,10.51 59.80,9.50 C58.75,8.49 57.97,7.25 57.20,6.00 C56.43,4.75 55.62,3.67 55.20,2.00 C54.78,0.33 57.07,-1.67 54.70,-4.00 C52.33,-6.33 45.57,-12.00 41.00,-12.00 Z" fill="url(#edge)" filter="url(#blur)"/>
<path d="M41.00,-12.00 C36.43,-12.00 29.67,-6.33 27.30,-4.00 C24.93,-1.67 27.22,0.33 26.80,2.00 C26.38,3.67 25.57,4.75 24.80,6.00 C24.03,7.25 23.25,8.49 22.20,9.50 C21.15,10.51 20.03,11.42 18.50,12.05 C16.97,12.68 14.92,12.98 13.00,13.30 C11.08,13.62 8.43,13.58 7.00,14.00 C5.57,14.42 4.48,15.18 4.40,15.80 C4.32,16.42 5.07,17.23 6.50,17.70 C7.93,18.17 10.83,18.14 13.00,18.60 C15.17,19.06 17.85,19.77 19.50,20.45 C21.15,21.12 21.97,21.62 22.90,22.65 C23.83,23.68 24.65,25.09 25.10,26.65 C25.55,28.21 25.60,29.94 25.60,32.00 C25.60,34.06 25.67,36.67 25.10,39.00 C24.53,41.33 23.27,43.75 22.20,46.00 C21.13,48.25 19.57,50.17 18.70,52.50 C17.83,54.83 17.27,57.67 17.00,60.00 C16.73,62.33 16.73,64.62 17.10,66.50 C17.47,68.38 19.74,70.33 19.20,71.30 C18.66,72.27 15.91,72.08 13.85,72.30 C11.79,72.52 8.68,72.28 6.85,72.60 C5.02,72.92 3.35,73.57 2.85,74.20 C2.35,74.83 2.52,75.93 3.85,76.40 C5.18,76.87 8.21,76.90 10.85,77.00 C13.49,77.10 17.47,76.78 19.70,77.00 C21.93,77.22 22.78,77.75 24.20,78.30 C25.62,78.85 26.78,79.52 28.20,80.30 C29.62,81.08 29.18,82.55 32.70,83.00 C36.22,83.45 45.78,83.45 49.30,83.00 C52.82,82.55 52.38,81.08 53.80,80.30 C55.22,79.52 56.38,78.85 57.80,78.30 C59.22,77.75 60.07,77.22 62.30,77.00 C64.53,76.78 68.51,77.10 71.15,77.00 C73.79,76.90 76.82,76.87 78.15,76.40 C79.48,75.93 79.65,74.83 79.15,74.20 C78.65,73.57 76.98,72.92 75.15,72.60 C73.32,72.28 70.21,72.52 68.15,72.30 C66.09,72.08 63.34,72.27 62.80,71.30 C62.26,70.33 64.53,68.38 64.90,66.50 C65.27,64.62 65.27,62.33 65.00,60.00 C64.73,57.67 64.17,54.83 63.30,52.50 C62.43,50.17 60.87,48.25 59.80,46.00 C58.73,43.75 57.47,41.33 56.90,39.00 C56.33,36.67 56.40,34.06 56.40,32.00 C56.40,29.94 56.45,28.21 56.90,26.65 C57.35,25.09 58.17,23.68 59.10,22.65 C60.03,21.62 60.85,21.12 62.50,20.45 C64.15,19.77 66.83,19.06 69.00,18.60 C71.17,18.14 74.07,18.17 75.50,17.70 C76.93,17.23 77.68,16.42 77.60,15.80 C77.52,15.18 76.43,14.42 75.00,14.00 C73.57,13.58 70.92,13.62 69.00,13.30 C67.08,12.98 65.03,12.68 63.50,12.05 C61.97,11.42 60.85,10.51 59.80,9.50 C58.75,8.49 57.97,7.25 57.20,6.00 C56.43,4.75 55.62,3.67 55.20,2.00 C54.78,0.33 57.07,-1.67 54.70,-4.00 C52.33,-6.33 45.57,-12.00 41.00,-12.00 Z" fill="#000" opacity="0.1" filter="url(#fur)"/>
<ellipse cx="30" cy="11.5" rx="3.6" ry="6.2" fill="#808080" opacity="0.85" filter="url(#blur2)"/>
<ellipse cx="52" cy="11.5" rx="3.6" ry="6.2" fill="#808080" opacity="0.85" filter="url(#blur2)"/>
</g></g>
<g transform="translate(172.6,179) scale(0.993,1)"><g clip-path="url(#pc)">
<path d="M43.50,-12.00 C39.67,-12.00 34.00,-6.33 32.00,-4.00 C30.00,-1.67 32.06,0.19 31.50,2.00 C30.94,3.81 29.53,5.48 28.62,6.88 C27.71,8.28 27.71,9.23 26.02,10.38 C24.33,11.53 20.67,12.85 18.50,13.80 C16.33,14.75 14.92,15.48 13.00,16.10 C11.08,16.72 8.43,16.97 7.00,17.50 C5.57,18.03 4.48,18.68 4.40,19.30 C4.32,19.92 5.07,20.85 6.50,21.20 C7.93,21.55 10.83,21.23 13.00,21.40 C15.17,21.57 17.92,21.82 19.50,22.20 C21.08,22.58 21.63,22.78 22.50,23.70 C23.37,24.62 24.25,26.32 24.70,27.70 C25.15,29.08 25.20,30.12 25.20,32.00 C25.20,33.88 25.02,36.67 24.70,39.00 C24.38,41.33 24.12,43.75 23.30,46.00 C22.48,48.25 20.67,50.17 19.80,52.50 C18.93,54.83 18.37,57.67 18.10,60.00 C17.83,62.33 17.83,64.62 18.20,66.50 C18.57,68.38 20.93,70.33 20.30,71.30 C19.67,72.27 16.55,72.08 14.40,72.30 C12.25,72.52 9.23,72.28 7.40,72.60 C5.57,72.92 3.90,73.57 3.40,74.20 C2.90,74.83 3.07,75.93 4.40,76.40 C5.73,76.87 8.67,76.90 11.40,77.00 C14.13,77.10 18.48,76.78 20.80,77.00 C23.12,77.22 23.88,77.75 25.30,78.30 C26.72,78.85 27.88,79.52 29.30,80.30 C30.72,81.08 30.65,82.55 33.80,83.00 C36.95,83.45 45.05,83.45 48.20,83.00 C51.35,82.55 51.28,81.08 52.70,80.30 C54.12,79.52 55.28,78.85 56.70,78.30 C58.12,77.75 58.88,77.22 61.20,77.00 C63.52,76.78 67.87,77.10 70.60,77.00 C73.33,76.90 76.27,76.87 77.60,76.40 C78.93,75.93 79.10,74.83 78.60,74.20 C78.10,73.57 76.43,72.92 74.60,72.60 C72.77,72.28 69.75,72.52 67.60,72.30 C65.45,72.08 62.33,72.27 61.70,71.30 C61.07,70.33 63.43,68.38 63.80,66.50 C64.17,64.62 64.17,62.33 63.90,60.00 C63.63,57.67 63.07,54.83 62.20,52.50 C61.33,50.17 59.52,48.25 58.70,46.00 C57.88,43.75 57.62,41.33 57.30,39.00 C56.98,36.67 56.80,33.97 56.80,32.00 C56.80,30.03 56.85,28.63 57.30,27.16 C57.75,25.69 58.63,24.14 59.50,23.16 C60.37,22.18 60.92,21.83 62.50,21.30 C64.08,20.77 66.83,20.28 69.00,19.96 C71.17,19.64 74.07,19.81 75.50,19.40 C76.93,18.99 77.68,18.12 77.60,17.50 C77.52,16.88 76.43,16.17 75.00,15.70 C73.57,15.23 70.92,15.13 69.00,14.66 C67.08,14.19 64.84,13.61 63.50,12.90 C62.16,12.19 61.83,11.38 60.98,10.38 C60.13,9.38 59.29,8.28 58.38,6.88 C57.47,5.48 56.06,3.81 55.50,2.00 C54.94,0.19 57.00,-1.67 55.00,-4.00 C53.00,-6.33 47.33,-12.00 43.50,-12.00 Z" fill="url(#body)" filter="url(#blur)"/>
<path d="M43.50,-12.00 C39.67,-12.00 34.00,-6.33 32.00,-4.00 C30.00,-1.67 32.06,0.19 31.50,2.00 C30.94,3.81 29.53,5.48 28.62,6.88 C27.71,8.28 27.71,9.23 26.02,10.38 C24.33,11.53 20.67,12.85 18.50,13.80 C16.33,14.75 14.92,15.48 13.00,16.10 C11.08,16.72 8.43,16.97 7.00,17.50 C5.57,18.03 4.48,18.68 4.40,19.30 C4.32,19.92 5.07,20.85 6.50,21.20 C7.93,21.55 10.83,21.23 13.00,21.40 C15.17,21.57 17.92,21.82 19.50,22.20 C21.08,22.58 21.63,22.78 22.50,23.70 C23.37,24.62 24.25,26.32 24.70,27.70 C25.15,29.08 25.20,30.12 25.20,32.00 C25.20,33.88 25.02,36.67 24.70,39.00 C24.38,41.33 24.12,43.75 23.30,46.00 C22.48,48.25 20.67,50.17 19.80,52.50 C18.93,54.83 18.37,57.67 18.10,60.00 C17.83,62.33 17.83,64.62 18.20,66.50 C18.57,68.38 20.93,70.33 20.30,71.30 C19.67,72.27 16.55,72.08 14.40,72.30 C12.25,72.52 9.23,72.28 7.40,72.60 C5.57,72.92 3.90,73.57 3.40,74.20 C2.90,74.83 3.07,75.93 4.40,76.40 C5.73,76.87 8.67,76.90 11.40,77.00 C14.13,77.10 18.48,76.78 20.80,77.00 C23.12,77.22 23.88,77.75 25.30,78.30 C26.72,78.85 27.88,79.52 29.30,80.30 C30.72,81.08 30.65,82.55 33.80,83.00 C36.95,83.45 45.05,83.45 48.20,83.00 C51.35,82.55 51.28,81.08 52.70,80.30 C54.12,79.52 55.28,78.85 56.70,78.30 C58.12,77.75 58.88,77.22 61.20,77.00 C63.52,76.78 67.87,77.10 70.60,77.00 C73.33,76.90 76.27,76.87 77.60,76.40 C78.93,75.93 79.10,74.83 78.60,74.20 C78.10,73.57 76.43,72.92 74.60,72.60 C72.77,72.28 69.75,72.52 67.60,72.30 C65.45,72.08 62.33,72.27 61.70,71.30 C61.07,70.33 63.43,68.38 63.80,66.50 C64.17,64.62 64.17,62.33 63.90,60.00 C63.63,57.67 63.07,54.83 62.20,52.50 C61.33,50.17 59.52,48.25 58.70,46.00 C57.88,43.75 57.62,41.33 57.30,39.00 C56.98,36.67 56.80,33.97 56.80,32.00 C56.80,30.03 56.85,28.63 57.30,27.16 C57.75,25.69 58.63,24.14 59.50,23.16 C60.37,22.18 60.92,21.83 62.50,21.30 C64.08,20.77 66.83,20.28 69.00,19.96 C71.17,19.64 74.07,19.81 75.50,19.40 C76.93,18.99 77.68,18.12 77.60,17.50 C77.52,16.88 76.43,16.17 75.00,15.70 C73.57,15.23 70.92,15.13 69.00,14.66 C67.08,14.19 64.84,13.61 63.50,12.90 C62.16,12.19 61.83,11.38 60.98,10.38 C60.13,9.38 59.29,8.28 58.38,6.88 C57.47,5.48 56.06,3.81 55.50,2.00 C54.94,0.19 57.00,-1.67 55.00,-4.00 C53.00,-6.33 47.33,-12.00 43.50,-12.00 Z" fill="url(#edge)" filter="url(#blur)"/>
<path d="M43.50,-12.00 C39.67,-12.00 34.00,-6.33 32.00,-4.00 C30.00,-1.67 32.06,0.19 31.50,2.00 C30.94,3.81 29.53,5.48 28.62,6.88 C27.71,8.28 27.71,9.23 26.02,10.38 C24.33,11.53 20.67,12.85 18.50,13.80 C16.33,14.75 14.92,15.48 13.00,16.10 C11.08,16.72 8.43,16.97 7.00,17.50 C5.57,18.03 4.48,18.68 4.40,19.30 C4.32,19.92 5.07,20.85 6.50,21.20 C7.93,21.55 10.83,21.23 13.00,21.40 C15.17,21.57 17.92,21.82 19.50,22.20 C21.08,22.58 21.63,22.78 22.50,23.70 C23.37,24.62 24.25,26.32 24.70,27.70 C25.15,29.08 25.20,30.12 25.20,32.00 C25.20,33.88 25.02,36.67 24.70,39.00 C24.38,41.33 24.12,43.75 23.30,46.00 C22.48,48.25 20.67,50.17 19.80,52.50 C18.93,54.83 18.37,57.67 18.10,60.00 C17.83,62.33 17.83,64.62 18.20,66.50 C18.57,68.38 20.93,70.33 20.30,71.30 C19.67,72.27 16.55,72.08 14.40,72.30 C12.25,72.52 9.23,72.28 7.40,72.60 C5.57,72.92 3.90,73.57 3.40,74.20 C2.90,74.83 3.07,75.93 4.40,76.40 C5.73,76.87 8.67,76.90 11.40,77.00 C14.13,77.10 18.48,76.78 20.80,77.00 C23.12,77.22 23.88,77.75 25.30,78.30 C26.72,78.85 27.88,79.52 29.30,80.30 C30.72,81.08 30.65,82.55 33.80,83.00 C36.95,83.45 45.05,83.45 48.20,83.00 C51.35,82.55 51.28,81.08 52.70,80.30 C54.12,79.52 55.28,78.85 56.70,78.30 C58.12,77.75 58.88,77.22 61.20,77.00 C63.52,76.78 67.87,77.10 70.60,77.00 C73.33,76.90 76.27,76.87 77.60,76.40 C78.93,75.93 79.10,74.83 78.60,74.20 C78.10,73.57 76.43,72.92 74.60,72.60 C72.77,72.28 69.75,72.52 67.60,72.30 C65.45,72.08 62.33,72.27 61.70,71.30 C61.07,70.33 63.43,68.38 63.80,66.50 C64.17,64.62 64.17,62.33 63.90,60.00 C63.63,57.67 63.07,54.83 62.20,52.50 C61.33,50.17 59.52,48.25 58.70,46.00 C57.88,43.75 57.62,41.33 57.30,39.00 C56.98,36.67 56.80,33.97 56.80,32.00 C56.80,30.03 56.85,28.63 57.30,27.16 C57.75,25.69 58.63,24.14 59.50,23.16 C60.37,22.18 60.92,21.83 62.50,21.30 C64.08,20.77 66.83,20.28 69.00,19.96 C71.17,19.64 74.07,19.81 75.50,19.40 C76.93,18.99 77.68,18.12 77.60,17.50 C77.52,16.88 76.43,16.17 75.00,15.70 C73.57,15.23 70.92,15.13 69.00,14.66 C67.08,14.19 64.84,13.61 63.50,12.90 C62.16,12.19 61.83,11.38 60.98,10.38 C60.13,9.38 59.29,8.28 58.38,6.88 C57.47,5.48 56.06,3.81 55.50,2.00 C54.94,0.19 57.00,-1.67 55.00,-4.00 C53.00,-6.33 47.33,-12.00 43.50,-12.00 Z" fill="#000" opacity="0.1" filter="url(#fur)"/>
<ellipse cx="30" cy="11.5" rx="3.6" ry="6.2" fill="#808080" opacity="0.85" filter="url(#blur2)"/>
<ellipse cx="52" cy="11.5" rx="3.6" ry="6.2" fill="#808080" opacity="0.85" filter="url(#blur2)"/>
</g></g>
<line x1="87.7" y1="179" x2="87.7" y2="259.5" stroke="#b0b0b0" stroke-width="1.3"/>
<line x1="171.6" y1="179" x2="171.6" y2="259.5" stroke="#b0b0b0" stroke-width="1.3"/>
<ellipse cx="25.2" cy="255" rx="4.2" ry="3.0" fill="url(#spot)"/>
<ellipse cx="65.8" cy="255.8" rx="4.2" ry="3.0" fill="url(#spot)"/>
<ellipse cx="73.7" cy="198" rx="1.3" ry="1.1" fill="#302828" opacity="0.8"/>
<rect x="269" y="179.5" width="249" height="79.5" fill="#0c0c0c"/>
<g transform="translate(269,179.5) scale(0.990,1)"><g clip-path="url(#pc)">
<path d="M41.00,-12.00 C37.10,-12.00 31.33,-6.33 29.30,-4.00 C27.27,-1.67 29.35,0.20 28.80,2.00 C28.25,3.80 26.90,5.42 26.00,6.80 C25.10,8.18 24.65,9.07 23.40,10.30 C22.15,11.53 20.23,13.47 18.50,14.20 C16.77,14.93 14.92,14.72 13.00,14.70 C11.08,14.68 8.43,14.00 7.00,14.10 C5.57,14.20 4.48,14.68 4.40,15.30 C4.32,15.92 5.07,17.02 6.50,17.80 C7.93,18.58 10.83,19.20 13.00,20.00 C15.17,20.80 17.97,21.88 19.50,22.60 C21.03,23.32 21.38,23.35 22.20,24.30 C23.02,25.25 24.00,27.02 24.40,28.30 C24.80,29.58 24.82,30.22 24.60,32.00 C24.37,33.78 24.13,36.67 23.05,39.00 C21.97,41.33 19.61,43.75 18.10,46.00 C16.59,48.25 14.97,50.17 14.00,52.50 C13.03,54.83 12.57,57.67 12.30,60.00 C12.03,62.33 12.03,64.62 12.40,66.50 C12.77,68.38 14.90,70.33 14.50,71.30 C14.10,72.27 11.92,72.08 10.00,72.30 C8.08,72.52 4.83,72.28 3.00,72.60 C1.17,72.92 -0.50,73.57 -1.00,74.20 C-1.50,74.83 -1.33,75.93 0.00,76.40 C1.33,76.87 4.50,76.90 7.00,77.00 C9.50,77.10 12.92,76.78 15.00,77.00 C17.08,77.22 18.08,77.75 19.50,78.30 C20.92,78.85 22.08,79.52 23.50,80.30 C24.92,81.08 23.92,82.55 28.00,83.00 C32.08,83.45 43.92,83.45 48.00,83.00 C52.08,82.55 51.08,81.08 52.50,80.30 C53.92,79.52 55.08,78.85 56.50,78.30 C57.92,77.75 58.92,77.22 61.00,77.00 C63.08,76.78 66.50,77.10 69.00,77.00 C71.50,76.90 74.67,76.87 76.00,76.40 C77.33,75.93 77.50,74.83 77.00,74.20 C76.50,73.57 74.83,72.92 73.00,72.60 C71.17,72.28 67.92,72.52 66.00,72.30 C64.08,72.08 61.90,72.27 61.50,71.30 C61.10,70.33 63.23,68.38 63.60,66.50 C63.97,64.62 63.97,62.33 63.70,60.00 C63.43,57.67 62.77,54.83 62.00,52.50 C61.23,50.17 60.06,48.25 59.10,46.00 C58.14,43.75 56.63,41.33 56.25,39.00 C55.87,36.67 56.58,33.76 56.80,32.00 C57.03,30.24 57.10,29.71 57.60,28.45 C58.10,27.19 58.98,25.33 59.80,24.45 C60.62,23.57 61.12,23.57 62.50,23.15 C63.88,22.72 66.43,22.26 68.10,21.90 C69.77,21.54 71.42,21.52 72.50,21.00 C73.58,20.48 74.68,19.42 74.60,18.80 C74.52,18.18 73.08,17.67 72.00,17.30 C70.92,16.93 69.52,17.03 68.10,16.60 C66.68,16.18 65.08,15.80 63.50,14.75 C61.92,13.70 59.85,11.62 58.60,10.30 C57.35,8.98 56.90,8.18 56.00,6.80 C55.10,5.42 53.75,3.80 53.20,2.00 C52.65,0.20 54.73,-1.67 52.70,-4.00 C50.67,-6.33 44.90,-12.00 41.00,-12.00 Z" fill="url(#body)" filter="url(#blur)"/>
<path d="M41.00,-12.00 C37.10,-12.00 31.33,-6.33 29.30,-4.00 C27.27,-1.67 29.35,0.20 28.80,2.00 C28.25,3.80 26.90,5.42 26.00,6.80 C25.10,8.18 24.65,9.07 23.40,10.30 C22.15,11.53 20.23,13.47 18.50,14.20 C16.77,14.93 14.92,14.72 13.00,14.70 C11.08,14.68 8.43,14.00 7.00,14.10 C5.57,14.20 4.48,14.68 4.40,15.30 C4.32,15.92 5.07,17.02 6.50,17.80 C7.93,18.58 10.83,19.20 13.00,20.00 C15.17,20.80 17.97,21.88 19.50,22.60 C21.03,23.32 21.38,23.35 22.20,24.30 C23.02,25.25 24.00,27.02 24.40,28.30 C24.80,29.58 24.82,30.22 24.60,32.00 C24.37,33.78 24.13,36.67 23.05,39.00 C21.97,41.33 19.61,43.75 18.10,46.00 C16.59,48.25 14.97,50.17 14.00,52.50 C13.03,54.83 12.57,57.67 12.30,60.00 C12.03,62.33 12.03,64.62 12.40,66.50 C12.77,68.38 14.90,70.33 14.50,71.30 C14.10,72.27 11.92,72.08 10.00,72.30 C8.08,72.52 4.83,72.28 3.00,72.60 C1.17,72.92 -0.50,73.57 -1.00,74.20 C-1.50,74.83 -1.33,75.93 0.00,76.40 C1.33,76.87 4.50,76.90 7.00,77.00 C9.50,77.10 12.92,76.78 15.00,77.00 C17.08,77.22 18.08,77.75 19.50,78.30 C20.92,78.85 22.08,79.52 23.50,80.30 C24.92,81.08 23.92,82.55 28.00,83.00 C32.08,83.45 43.92,83.45 48.00,83.00 C52.08,82.55 51.08,81.08 52.50,80.30 C53.92,79.52 55.08,78.85 56.50,78.30 C57.92,77.75 58.92,77.22 61.00,77.00 C63.08,76.78 66.50,77.10 69.00,77.00 C71.50,76.90 74.67,76.87 76.00,76.40 C77.33,75.93 77.50,74.83 77.00,74.20 C76.50,73.57 74.83,72.92 73.00,72.60 C71.17,72.28 67.92,72.52 66.00,72.30 C64.08,72.08 61.90,72.27 61.50,71.30 C61.10,70.33 63.23,68.38 63.60,66.50 C63.97,64.62 63.97,62.33 63.70,60.00 C63.43,57.67 62.77,54.83 62.00,52.50 C61.23,50.17 60.06,48.25 59.10,46.00 C58.14,43.75 56.63,41.33 56.25,39.00 C55.87,36.67 56.58,33.76 56.80,32.00 C57.03,30.24 57.10,29.71 57.60,28.45 C58.10,27.19 58.98,25.33 59.80,24.45 C60.62,23.57 61.12,23.57 62.50,23.15 C63.88,22.72 66.43,22.26 68.10,21.90 C69.77,21.54 71.42,21.52 72.50,21.00 C73.58,20.48 74.68,19.42 74.60,18.80 C74.52,18.18 73.08,17.67 72.00,17.30 C70.92,16.93 69.52,17.03 68.10,16.60 C66.68,16.18 65.08,15.80 63.50,14.75 C61.92,13.70 59.85,11.62 58.60,10.30 C57.35,8.98 56.90,8.18 56.00,6.80 C55.10,5.42 53.75,3.80 53.20,2.00 C52.65,0.20 54.73,-1.67 52.70,-4.00 C50.67,-6.33 44.90,-12.00 41.00,-12.00 Z" fill="url(#edge)" filter="url(#blur)"/>
<path d="M41.00,-12.00 C37.10,-12.00 31.33,-6.33 29.30,-4.00 C27.27,-1.67 29.35,0.20 28.80,2.00 C28.25,3.80 26.90,5.42 26.00,6.80 C25.10,8.18 24.65,9.07 23.40,10.30 C22.15,11.53 20.23,13.47 18.50,14.20 C16.77,14.93 14.92,14.72 13.00,14.70 C11.08,14.68 8.43,14.00 7.00,14.10 C5.57,14.20 4.48,14.68 4.40,15.30 C4.32,15.92 5.07,17.02 6.50,17.80 C7.93,18.58 10.83,19.20 13.00,20.00 C15.17,20.80 17.97,21.88 19.50,22.60 C21.03,23.32 21.38,23.35 22.20,24.30 C23.02,25.25 24.00,27.02 24.40,28.30 C24.80,29.58 24.82,30.22 24.60,32.00 C24.37,33.78 24.13,36.67 23.05,39.00 C21.97,41.33 19.61,43.75 18.10,46.00 C16.59,48.25 14.97,50.17 14.00,52.50 C13.03,54.83 12.57,57.67 12.30,60.00 C12.03,62.33 12.03,64.62 12.40,66.50 C12.77,68.38 14.90,70.33 14.50,71.30 C14.10,72.27 11.92,72.08 10.00,72.30 C8.08,72.52 4.83,72.28 3.00,72.60 C1.17,72.92 -0.50,73.57 -1.00,74.20 C-1.50,74.83 -1.33,75.93 0.00,76.40 C1.33,76.87 4.50,76.90 7.00,77.00 C9.50,77.10 12.92,76.78 15.00,77.00 C17.08,77.22 18.08,77.75 19.50,78.30 C20.92,78.85 22.08,79.52 23.50,80.30 C24.92,81.08 23.92,82.55 28.00,83.00 C32.08,83.45 43.92,83.45 48.00,83.00 C52.08,82.55 51.08,81.08 52.50,80.30 C53.92,79.52 55.08,78.85 56.50,78.30 C57.92,77.75 58.92,77.22 61.00,77.00 C63.08,76.78 66.50,77.10 69.00,77.00 C71.50,76.90 74.67,76.87 76.00,76.40 C77.33,75.93 77.50,74.83 77.00,74.20 C76.50,73.57 74.83,72.92 73.00,72.60 C71.17,72.28 67.92,72.52 66.00,72.30 C64.08,72.08 61.90,72.27 61.50,71.30 C61.10,70.33 63.23,68.38 63.60,66.50 C63.97,64.62 63.97,62.33 63.70,60.00 C63.43,57.67 62.77,54.83 62.00,52.50 C61.23,50.17 60.06,48.25 59.10,46.00 C58.14,43.75 56.63,41.33 56.25,39.00 C55.87,36.67 56.58,33.76 56.80,32.00 C57.03,30.24 57.10,29.71 57.60,28.45 C58.10,27.19 58.98,25.33 59.80,24.45 C60.62,23.57 61.12,23.57 62.50,23.15 C63.88,22.72 66.43,22.26 68.10,21.90 C69.77,21.54 71.42,21.52 72.50,21.00 C73.58,20.48 74.68,19.42 74.60,18.80 C74.52,18.18 73.08,17.67 72.00,17.30 C70.92,16.93 69.52,17.03 68.10,16.60 C66.68,16.18 65.08,15.80 63.50,14.75 C61.92,13.70 59.85,11.62 58.60,10.30 C57.35,8.98 56.90,8.18 56.00,6.80 C55.10,5.42 53.75,3.80 53.20,2.00 C52.65,0.20 54.73,-1.67 52.70,-4.00 C50.67,-6.33 44.90,-12.00 41.00,-12.00 Z" fill="#000" opacity="0.1" filter="url(#fur)"/>
<ellipse cx="30" cy="11.5" rx="3.6" ry="6.2" fill="#808080" opacity="0.85" filter="url(#blur2)"/>
<ellipse cx="52" cy="11.5" rx="3.6" ry="6.2" fill="#808080" opacity="0.85" filter="url(#blur2)"/>
</g></g>
<g transform="translate(352.2,179.5) scale(1.005,1)"><g clip-path="url(#pc)">
<path d="M41.00,-12.00 C36.43,-12.00 29.67,-6.33 27.30,-4.00 C24.93,-1.67 27.22,0.33 26.80,2.00 C26.38,3.67 25.57,4.75 24.80,6.00 C24.03,7.25 23.25,8.51 22.20,9.50 C21.15,10.49 20.03,11.54 18.50,11.95 C16.97,12.36 14.92,12.05 13.00,11.95 C11.08,11.85 8.43,11.21 7.00,11.35 C5.57,11.49 4.48,12.18 4.40,12.80 C4.32,13.42 5.07,14.31 6.50,15.05 C7.93,15.79 10.83,16.37 13.00,17.25 C15.17,18.13 18.07,19.42 19.50,20.35 C20.93,21.27 20.88,21.73 21.60,22.80 C22.32,23.88 23.35,25.27 23.80,26.80 C24.25,28.33 24.30,29.97 24.30,32.00 C24.30,34.03 24.38,36.67 23.80,39.00 C23.22,41.33 21.88,43.75 20.80,46.00 C19.72,48.25 18.17,50.17 17.30,52.50 C16.43,54.83 15.87,57.67 15.60,60.00 C15.33,62.33 15.33,64.62 15.70,66.50 C16.07,68.38 18.23,70.33 17.80,71.30 C17.38,72.27 15.09,72.08 13.15,72.30 C11.21,72.52 7.98,72.28 6.15,72.60 C4.32,72.92 2.65,73.57 2.15,74.20 C1.65,74.83 1.82,75.93 3.15,76.40 C4.48,76.87 7.62,76.90 10.15,77.00 C12.68,77.10 16.19,76.78 18.30,77.00 C20.41,77.22 21.38,77.75 22.80,78.30 C24.22,78.85 25.38,79.52 26.80,80.30 C28.22,81.08 27.32,82.55 31.30,83.00 C35.28,83.45 46.72,83.45 50.70,83.00 C54.68,82.55 53.78,81.08 55.20,80.30 C56.62,79.52 57.78,78.85 59.20,78.30 C60.62,77.75 61.59,77.22 63.70,77.00 C65.81,76.78 69.32,77.10 71.85,77.00 C74.38,76.90 77.52,76.87 78.85,76.40 C80.18,75.93 80.35,74.83 79.85,74.20 C79.35,73.57 77.68,72.92 75.85,72.60 C74.02,72.28 70.79,72.52 68.85,72.30 C66.91,72.08 64.62,72.27 64.20,71.30 C63.78,70.33 65.93,68.38 66.30,66.50 C66.67,64.62 66.67,62.33 66.40,60.00 C66.13,57.67 65.57,54.83 64.70,52.50 C63.83,50.17 62.28,48.25 61.20,46.00 C60.12,43.75 58.78,41.33 58.20,39.00 C57.62,36.67 57.70,34.03 57.70,32.00 C57.70,29.97 57.75,28.33 58.20,26.80 C58.65,25.27 59.68,23.89 60.40,22.80 C61.12,21.71 61.07,21.26 62.50,20.28 C63.93,19.30 66.83,17.88 69.00,16.90 C71.17,15.92 74.07,15.22 75.50,14.42 C76.93,13.62 77.68,12.72 77.60,12.10 C77.52,11.48 76.43,10.80 75.00,10.72 C73.57,10.64 70.92,11.41 69.00,11.60 C67.08,11.79 65.03,12.23 63.50,11.88 C61.97,11.53 60.85,10.48 59.80,9.50 C58.75,8.52 57.97,7.25 57.20,6.00 C56.43,4.75 55.62,3.67 55.20,2.00 C54.78,0.33 57.07,-1.67 54.70,-4.00 C52.33,-6.33 45.57,-12.00 41.00,-12.00 Z" fill="url(#body)" filter="url(#blur)"/>
<path d="M41.00,-12.00 C36.43,-12.00 29.67,-6.33 27.30,-4.00 C24.93,-1.67 27.22,0.33 26.80,2.00 C26.38,3.67 25.57,4.75 24.80,6.00 C24.03,7.25 23.25,8.51 22.20,9.50 C21.15,10.49 20.03,11.54 18.50,11.95 C16.97,12.36 14.92,12.05 13.00,11.95 C11.08,11.85 8.43,11.21 7.00,11.35 C5.57,11.49 4.48,12.18 4.40,12.80 C4.32,13.42 5.07,14.31 6.50,15.05 C7.93,15.79 10.83,16.37 13.00,17.25 C15.17,18.13 18.07,19.42 19.50,20.35 C20.93,21.27 20.88,21.73 21.60,22.80 C22.32,23.88 23.35,25.27 23.80,26.80 C24.25,28.33 24.30,29.97 24.30,32.00 C24.30,34.03 24.38,36.67 23.80,39.00 C23.22,41.33 21.88,43.75 20.80,46.00 C19.72,48.25 18.17,50.17 17.30,52.50 C16.43,54.83 15.87,57.67 15.60,60.00 C15.33,62.33 15.33,64.62 15.70,66.50 C16.07,68.38 18.23,70.33 17.80,71.30 C17.38,72.27 15.09,72.08 13.15,72.30 C11.21,72.52 7.98,72.28 6.15,72.60 C4.32,72.92 2.65,73.57 2.15,74.20 C1.65,74.83 1.82,75.93 3.15,76.40 C4.48,76.87 7.62,76.90 10.15,77.00 C12.68,77.10 16.19,76.78 18.30,77.00 C20.41,77.22 21.38,77.75 22.80,78.30 C24.22,78.85 25.38,79.52 26.80,80.30 C28.22,81.08 27.32,82.55 31.30,83.00 C35.28,83.45 46.72,83.45 50.70,83.00 C54.68,82.55 53.78,81.08 55.20,80.30 C56.62,79.52 57.78,78.85 59.20,78.30 C60.62,77.75 61.59,77.22 63.70,77.00 C65.81,76.78 69.32,77.10 71.85,77.00 C74.38,76.90 77.52,76.87 78.85,76.40 C80.18,75.93 80.35,74.83 79.85,74.20 C79.35,73.57 77.68,72.92 75.85,72.60 C74.02,72.28 70.79,72.52 68.85,72.30 C66.91,72.08 64.62,72.27 64.20,71.30 C63.78,70.33 65.93,68.38 66.30,66.50 C66.67,64.62 66.67,62.33 66.40,60.00 C66.13,57.67 65.57,54.83 64.70,52.50 C63.83,50.17 62.28,48.25 61.20,46.00 C60.12,43.75 58.78,41.33 58.20,39.00 C57.62,36.67 57.70,34.03 57.70,32.00 C57.70,29.97 57.75,28.33 58.20,26.80 C58.65,25.27 59.68,23.89 60.40,22.80 C61.12,21.71 61.07,21.26 62.50,20.28 C63.93,19.30 66.83,17.88 69.00,16.90 C71.17,15.92 74.07,15.22 75.50,14.42 C76.93,13.62 77.68,12.72 77.60,12.10 C77.52,11.48 76.43,10.80 75.00,10.72 C73.57,10.64 70.92,11.41 69.00,11.60 C67.08,11.79 65.03,12.23 63.50,11.88 C61.97,11.53 60.85,10.48 59.80,9.50 C58.75,8.52 57.97,7.25 57.20,6.00 C56.43,4.75 55.62,3.67 55.20,2.00 C54.78,0.33 57.07,-1.67 54.70,-4.00 C52.33,-6.33 45.57,-12.00 41.00,-12.00 Z" fill="url(#edge)" filter="url(#blur)"/>
<path d="M41.00,-12.00 C36.43,-12.00 29.67,-6.33 27.30,-4.00 C24.93,-1.67 27.22,0.33 26.80,2.00 C26.38,3.67 25.57,4.75 24.80,6.00 C24.03,7.25 23.25,8.51 22.20,9.50 C21.15,10.49 20.03,11.54 18.50,11.95 C16.97,12.36 14.92,12.05 13.00,11.95 C11.08,11.85 8.43,11.21 7.00,11.35 C5.57,11.49 4.48,12.18 4.40,12.80 C4.32,13.42 5.07,14.31 6.50,15.05 C7.93,15.79 10.83,16.37 13.00,17.25 C15.17,18.13 18.07,19.42 19.50,20.35 C20.93,21.27 20.88,21.73 21.60,22.80 C22.32,23.88 23.35,25.27 23.80,26.80 C24.25,28.33 24.30,29.97 24.30,32.00 C24.30,34.03 24.38,36.67 23.80,39.00 C23.22,41.33 21.88,43.75 20.80,46.00 C19.72,48.25 18.17,50.17 17.30,52.50 C16.43,54.83 15.87,57.67 15.60,60.00 C15.33,62.33 15.33,64.62 15.70,66.50 C16.07,68.38 18.23,70.33 17.80,71.30 C17.38,72.27 15.09,72.08 13.15,72.30 C11.21,72.52 7.98,72.28 6.15,72.60 C4.32,72.92 2.65,73.57 2.15,74.20 C1.65,74.83 1.82,75.93 3.15,76.40 C4.48,76.87 7.62,76.90 10.15,77.00 C12.68,77.10 16.19,76.78 18.30,77.00 C20.41,77.22 21.38,77.75 22.80,78.30 C24.22,78.85 25.38,79.52 26.80,80.30 C28.22,81.08 27.32,82.55 31.30,83.00 C35.28,83.45 46.72,83.45 50.70,83.00 C54.68,82.55 53.78,81.08 55.20,80.30 C56.62,79.52 57.78,78.85 59.20,78.30 C60.62,77.75 61.59,77.22 63.70,77.00 C65.81,76.78 69.32,77.10 71.85,77.00 C74.38,76.90 77.52,76.87 78.85,76.40 C80.18,75.93 80.35,74.83 79.85,74.20 C79.35,73.57 77.68,72.92 75.85,72.60 C74.02,72.28 70.79,72.52 68.85,72.30 C66.91,72.08 64.62,72.27 64.20,71.30 C63.78,70.33 65.93,68.38 66.30,66.50 C66.67,64.62 66.67,62.33 66.40,60.00 C66.13,57.67 65.57,54.83 64.70,52.50 C63.83,50.17 62.28,48.25 61.20,46.00 C60.12,43.75 58.78,41.33 58.20,39.00 C57.62,36.67 57.70,34.03 57.70,32.00 C57.70,29.97 57.75,28.33 58.20,26.80 C58.65,25.27 59.68,23.89 60.40,22.80 C61.12,21.71 61.07,21.26 62.50,20.28 C63.93,19.30 66.83,17.88 69.00,16.90 C71.17,15.92 74.07,15.22 75.50,14.42 C76.93,13.62 77.68,12.72 77.60,12.10 C77.52,11.48 76.43,10.80 75.00,10.72 C73.57,10.64 70.92,11.41 69.00,11.60 C67.08,11.79 65.03,12.23 63.50,11.88 C61.97,11.53 60.85,10.48 59.80,9.50 C58.75,8.52 57.97,7.25 57.20,6.00 C56.43,4.75 55.62,3.67 55.20,2.00 C54.78,0.33 57.07,-1.67 54.70,-4.00 C52.33,-6.33 45.57,-12.00 41.00,-12.00 Z" fill="#000" opacity="0.1" filter="url(#fur)"/>
<ellipse cx="30" cy="11.5" rx="3.6" ry="6.2" fill="#808080" opacity="0.85" filter="url(#blur2)"/>
<ellipse cx="52" cy="11.5" rx="3.6" ry="6.2" fill="#808080" opacity="0.85" filter="url(#blur2)"/>
</g></g>
<g transform="translate(436.6,179.5) scale(0.981,1)"><g clip-path="url(#pc)">
<path d="M41.00,-12.00 C36.43,-12.00 29.67,-6.33 27.30,-4.00 C24.93,-1.67 27.22,0.33 26.80,2.00 C26.38,3.67 25.57,4.75 24.80,6.00 C24.03,7.25 23.25,8.39 22.20,9.50 C21.15,10.61 20.03,11.86 18.50,12.65 C16.97,13.44 14.92,13.84 13.00,14.26 C11.08,14.68 8.43,14.74 7.00,15.20 C5.57,15.66 4.48,16.38 4.40,17.00 C4.32,17.62 5.07,18.47 6.50,18.90 C7.93,19.33 10.83,19.20 13.00,19.56 C15.17,19.92 18.20,20.48 19.50,21.05 C20.80,21.62 20.22,22.02 20.80,23.01 C21.38,24.00 22.55,25.51 23.00,27.01 C23.45,28.51 23.50,30.00 23.50,32.00 C23.50,34.00 23.17,36.67 23.00,39.00 C22.83,41.33 23.17,43.75 22.50,46.00 C21.83,48.25 19.87,50.17 19.00,52.50 C18.13,54.83 17.57,57.67 17.30,60.00 C17.03,62.33 17.03,64.62 17.40,66.50 C17.77,68.38 20.07,70.33 19.50,71.30 C18.93,72.27 16.08,72.08 14.00,72.30 C11.92,72.52 8.83,72.28 7.00,72.60 C5.17,72.92 3.50,73.57 3.00,74.20 C2.50,74.83 2.67,75.93 4.00,76.40 C5.33,76.87 8.33,76.90 11.00,77.00 C13.67,77.10 17.75,76.78 20.00,77.00 C22.25,77.22 23.08,77.75 24.50,78.30 C25.92,78.85 27.08,79.52 28.50,80.30 C29.92,81.08 29.58,82.55 33.00,83.00 C36.42,83.45 45.58,83.45 49.00,83.00 C52.42,82.55 52.08,81.08 53.50,80.30 C54.92,79.52 56.08,78.85 57.50,78.30 C58.92,77.75 59.75,77.22 62.00,77.00 C64.25,76.78 68.33,77.10 71.00,77.00 C73.67,76.90 76.67,76.87 78.00,76.40 C79.33,75.93 79.50,74.83 79.00,74.20 C78.50,73.57 76.83,72.92 75.00,72.60 C73.17,72.28 70.08,72.52 68.00,72.30 C65.92,72.08 63.07,72.27 62.50,71.30 C61.93,70.33 64.23,68.38 64.60,66.50 C64.97,64.62 64.97,62.33 64.70,60.00 C64.43,57.67 63.87,54.83 63.00,52.50 C62.13,50.17 60.17,48.25 59.50,46.00 C58.83,43.75 59.17,41.33 59.00,39.00 C58.83,36.67 58.50,33.95 58.50,32.00 C58.50,30.05 58.55,28.73 59.00,27.28 C59.45,25.83 60.62,24.24 61.20,23.28 C61.78,22.32 61.20,22.00 62.50,21.50 C63.80,21.00 66.83,20.56 69.00,20.28 C71.17,20.00 74.07,20.20 75.50,19.80 C76.93,19.40 77.68,18.52 77.60,17.90 C77.52,17.28 76.43,16.59 75.00,16.10 C73.57,15.61 70.92,15.48 69.00,14.98 C67.08,14.48 65.03,14.01 63.50,13.10 C61.97,12.19 60.85,10.68 59.80,9.50 C58.75,8.32 57.97,7.25 57.20,6.00 C56.43,4.75 55.62,3.67 55.20,2.00 C54.78,0.33 57.07,-1.67 54.70,-4.00 C52.33,-6.33 45.57,-12.00 41.00,-12.00 Z" fill="url(#body)" filter="url(#blur)"/>
<path d="M41.00,-12.00 C36.43,-12.00 29.67,-6.33 27.30,-4.00 C24.93,-1.67 27.22,0.33 26.80,2.00 C26.38,3.67 25.57,4.75 24.80,6.00 C24.03,7.25 23.25,8.39 22.20,9.50 C21.15,10.61 20.03,11.86 18.50,12.65 C16.97,13.44 14.92,13.84 13.00,14.26 C11.08,14.68 8.43,14.74 7.00,15.20 C5.57,15.66 4.48,16.38 4.40,17.00 C4.32,17.62 5.07,18.47 6.50,18.90 C7.93,19.33 10.83,19.20 13.00,19.56 C15.17,19.92 18.20,20.48 19.50,21.05 C20.80,21.62 20.22,22.02 20.80,23.01 C21.38,24.00 22.55,25.51 23.00,27.01 C23.45,28.51 23.50,30.00 23.50,32.00 C23.50,34.00 23.17,36.67 23.00,39.00 C22.83,41.33 23.17,43.75 22.50,46.00 C21.83,48.25 19.87,50.17 19.00,52.50 C18.13,54.83 17.57,57.67 17.30,60.00 C17.03,62.33 17.03,64.62 17.40,66.50 C17.77,68.38 20.07,70.33 19.50,71.30 C18.93,72.27 16.08,72.08 14.00,72.30 C11.92,72.52 8.83,72.28 7.00,72.60 C5.17,72.92 3.50,73.57 3.00,74.20 C2.50,74.83 2.67,75.93 4.00,76.40 C5.33,76.87 8.33,76.90 11.00,77.00 C13.67,77.10 17.75,76.78 20.00,77.00 C22.25,77.22 23.08,77.75 24.50,78.30 C25.92,78.85 27.08,79.52 28.50,80.30 C29.92,81.08 29.58,82.55 33.00,83.00 C36.42,83.45 45.58,83.45 49.00,83.00 C52.42,82.55 52.08,81.08 53.50,80.30 C54.92,79.52 56.08,78.85 57.50,78.30 C58.92,77.75 59.75,77.22 62.00,77.00 C64.25,76.78 68.33,77.10 71.00,77.00 C73.67,76.90 76.67,76.87 78.00,76.40 C79.33,75.93 79.50,74.83 79.00,74.20 C78.50,73.57 76.83,72.92 75.00,72.60 C73.17,72.28 70.08,72.52 68.00,72.30 C65.92,72.08 63.07,72.27 62.50,71.30 C61.93,70.33 64.23,68.38 64.60,66.50 C64.97,64.62 64.97,62.33 64.70,60.00 C64.43,57.67 63.87,54.83 63.00,52.50 C62.13,50.17 60.17,48.25 59.50,46.00 C58.83,43.75 59.17,41.33 59.00,39.00 C58.83,36.67 58.50,33.95 58.50,32.00 C58.50,30.05 58.55,28.73 59.00,27.28 C59.45,25.83 60.62,24.24 61.20,23.28 C61.78,22.32 61.20,22.00 62.50,21.50 C63.80,21.00 66.83,20.56 69.00,20.28 C71.17,20.00 74.07,20.20 75.50,19.80 C76.93,19.40 77.68,18.52 77.60,17.90 C77.52,17.28 76.43,16.59 75.00,16.10 C73.57,15.61 70.92,15.48 69.00,14.98 C67.08,14.48 65.03,14.01 63.50,13.10 C61.97,12.19 60.85,10.68 59.80,9.50 C58.75,8.32 57.97,7.25 57.20,6.00 C56.43,4.75 55.62,3.67 55.20,2.00 C54.78,0.33 57.07,-1.67 54.70,-4.00 C52.33,-6.33 45.57,-12.00 41.00,-12.00 Z" fill="url(#edge)" filter="url(#blur)"/>
<path d="M41.00,-12.00 C36.43,-12.00 29.67,-6.33 27.30,-4.00 C24.93,-1.67 27.22,0.33 26.80,2.00 C26.38,3.67 25.57,4.75 24.80,6.00 C24.03,7.25 23.25,8.39 22.20,9.50 C21.15,10.61 20.03,11.86 18.50,12.65 C16.97,13.44 14.92,13.84 13.00,14.26 C11.08,14.68 8.43,14.74 7.00,15.20 C5.57,15.66 4.48,16.38 4.40,17.00 C4.32,17.62 5.07,18.47 6.50,18.90 C7.93,19.33 10.83,19.20 13.00,19.56 C15.17,19.92 18.20,20.48 19.50,21.05 C20.80,21.62 20.22,22.02 20.80,23.01 C21.38,24.00 22.55,25.51 23.00,27.01 C23.45,28.51 23.50,30.00 23.50,32.00 C23.50,34.00 23.17,36.67 23.00,39.00 C22.83,41.33 23.17,43.75 22.50,46.00 C21.83,48.25 19.87,50.17 19.00,52.50 C18.13,54.83 17.57,57.67 17.30,60.00 C17.03,62.33 17.03,64.62 17.40,66.50 C17.77,68.38 20.07,70.33 19.50,71.30 C18.93,72.27 16.08,72.08 14.00,72.30 C11.92,72.52 8.83,72.28 7.00,72.60 C5.17,72.92 3.50,73.57 3.00,74.20 C2.50,74.83 2.67,75.93 4.00,76.40 C5.33,76.87 8.33,76.90 11.00,77.00 C13.67,77.10 17.75,76.78 20.00,77.00 C22.25,77.22 23.08,77.75 24.50,78.30 C25.92,78.85 27.08,79.52 28.50,80.30 C29.92,81.08 29.58,82.55 33.00,83.00 C36.42,83.45 45.58,83.45 49.00,83.00 C52.42,82.55 52.08,81.08 53.50,80.30 C54.92,79.52 56.08,78.85 57.50,78.30 C58.92,77.75 59.75,77.22 62.00,77.00 C64.25,76.78 68.33,77.10 71.00,77.00 C73.67,76.90 76.67,76.87 78.00,76.40 C79.33,75.93 79.50,74.83 79.00,74.20 C78.50,73.57 76.83,72.92 75.00,72.60 C73.17,72.28 70.08,72.52 68.00,72.30 C65.92,72.08 63.07,72.27 62.50,71.30 C61.93,70.33 64.23,68.38 64.60,66.50 C64.97,64.62 64.97,62.33 64.70,60.00 C64.43,57.67 63.87,54.83 63.00,52.50 C62.13,50.17 60.17,48.25 59.50,46.00 C58.83,43.75 59.17,41.33 59.00,39.00 C58.83,36.67 58.50,33.95 58.50,32.00 C58.50,30.05 58.55,28.73 59.00,27.28 C59.45,25.83 60.62,24.24 61.20,23.28 C61.78,22.32 61.20,22.00 62.50,21.50 C63.80,21.00 66.83,20.56 69.00,20.28 C71.17,20.00 74.07,20.20 75.50,19.80 C76.93,19.40 77.68,18.52 77.60,17.90 C77.52,17.28 76.43,16.59 75.00,16.10 C73.57,15.61 70.92,15.48 69.00,14.98 C67.08,14.48 65.03,14.01 63.50,13.10 C61.97,12.19 60.85,10.68 59.80,9.50 C58.75,8.32 57.97,7.25 57.20,6.00 C56.43,4.75 55.62,3.67 55.20,2.00 C54.78,0.33 57.07,-1.67 54.70,-4.00 C52.33,-6.33 45.57,-12.00 41.00,-12.00 Z" fill="#000" opacity="0.1" filter="url(#fur)"/>
<ellipse cx="30" cy="11.5" rx="3.6" ry="6.2" fill="#808080" opacity="0.85" filter="url(#blur2)"/>
<ellipse cx="52" cy="11.5" rx="3.6" ry="6.2" fill="#808080" opacity="0.85" filter="url(#blur2)"/>
</g></g>
<line x1="351.2" y1="179.5" x2="351.2" y2="259" stroke="#b0b0b0" stroke-width="1.3"/>
<line x1="435.6" y1="179.5" x2="435.6" y2="259" stroke="#b0b0b0" stroke-width="1.3"/>
<ellipse cx="285.8" cy="255" rx="4.2" ry="3.0" fill="url(#spot2)"/>
<ellipse cx="327.3" cy="255.7" rx="4.2" ry="3.0" fill="url(#spot2)"/>
<ellipse cx="279.5" cy="194.5" rx="1.3" ry="1.1" fill="#302828" opacity="0.8"/>
<ellipse cx="337" cy="198" rx="1.8" ry="1.4" fill="#903040" opacity="0.9"/>
<text x="24.2" y="162.5" style="font-family:'Liberation Serif',serif;font-size:11.6px;font-weight:normal" fill="#111" text-anchor="start"  stroke="#111" stroke-width="0.18">Arthritic</text>
<text x="24.2" y="176.0" style="font-family:'Liberation Serif',serif;font-size:11.6px;font-weight:normal" fill="#111" text-anchor="start"  stroke="#111" stroke-width="0.18">with PLT</text>
<text x="99.8" y="162.5" style="font-family:'Liberation Serif',serif;font-size:11.6px;font-weight:normal" fill="#111" text-anchor="start"  stroke="#111" stroke-width="0.18">Arthritic</text>
<text x="99.8" y="175.5" style="font-family:'Liberation Serif',serif;font-size:11.6px;font-weight:normal" fill="#111" text-anchor="start"  stroke="#111" stroke-width="0.18">PLT-depleted</text>
<text x="197.8" y="174.9" style="font-family:'Liberation Serif',serif;font-size:11.6px;font-weight:normal" fill="#111" text-anchor="start"  stroke="#111" stroke-width="0.18">Control</text>
<text x="287.5" y="163.0" style="font-family:'Liberation Serif',serif;font-size:11.6px;font-weight:normal" fill="#111" text-anchor="start"  stroke="#111" stroke-width="0.18">Arthritic</text>
<text x="287.5" y="176.5" style="font-family:'Liberation Serif',serif;font-size:11.6px;font-weight:normal" fill="#111" text-anchor="start"  stroke="#111" stroke-width="0.18">with PLT</text>
<text x="355.9" y="164.0" style="font-family:'Liberation Serif',serif;font-size:11.6px;font-weight:normal" fill="#111" text-anchor="start"  stroke="#111" stroke-width="0.18">Arthritic PLT-</text>
<text x="355.9" y="176.0" style="font-family:'Liberation Serif',serif;font-size:11.6px;font-weight:normal" fill="#111" text-anchor="start"  stroke="#111" stroke-width="0.18">depleted + IL-1&#946;</text>
<text x="456.2" y="174.3" style="font-family:'Liberation Serif',serif;font-size:11.6px;font-weight:normal" fill="#111" text-anchor="start"  stroke="#111" stroke-width="0.18">Control</text>
<rect x="47.6" y="266.3" width="152.20000000000002" height="7.300000000000011" fill="url(#cbar)" stroke="#333" stroke-width="0.6"/>
<line x1="47.6" y1="273.6" x2="47.6" y2="278.20000000000005" stroke="#333" stroke-width="0.8"/>
<line x1="52.67333333333333" y1="273.6" x2="52.67333333333333" y2="276.20000000000005" stroke="#333" stroke-width="0.8"/>
<line x1="57.74666666666667" y1="273.6" x2="57.74666666666667" y2="276.20000000000005" stroke="#333" stroke-width="0.8"/>
<line x1="62.82" y1="273.6" x2="62.82" y2="276.20000000000005" stroke="#333" stroke-width="0.8"/>
<line x1="67.89333333333335" y1="273.6" x2="67.89333333333335" y2="276.20000000000005" stroke="#333" stroke-width="0.8"/>
<line x1="72.96666666666667" y1="273.6" x2="72.96666666666667" y2="278.20000000000005" stroke="#333" stroke-width="0.8"/>
<line x1="78.04" y1="273.6" x2="78.04" y2="276.20000000000005" stroke="#333" stroke-width="0.8"/>
<line x1="83.11333333333334" y1="273.6" x2="83.11333333333334" y2="276.20000000000005" stroke="#333" stroke-width="0.8"/>
<line x1="88.18666666666667" y1="273.6" x2="88.18666666666667" y2="276.20000000000005" stroke="#333" stroke-width="0.8"/>
<line x1="93.26" y1="273.6" x2="93.26" y2="276.20000000000005" stroke="#333" stroke-width="0.8"/>
<line x1="98.33333333333334" y1="273.6" x2="98.33333333333334" y2="278.20000000000005" stroke="#333" stroke-width="0.8"/>
<line x1="103.40666666666668" y1="273.6" x2="103.40666666666668" y2="276.20000000000005" stroke="#333" stroke-width="0.8"/>
<line x1="108.48" y1="273.6" x2="108.48" y2="276.20000000000005" stroke="#333" stroke-width="0.8"/>
<line x1="113.55333333333334" y1="273.6" x2="113.55333333333334" y2="276.20000000000005" stroke="#333" stroke-width="0.8"/>
<line x1="118.62666666666667" y1="273.6" x2="118.62666666666667" y2="276.20000000000005" stroke="#333" stroke-width="0.8"/>
<line x1="123.70000000000002" y1="273.6" x2="123.70000000000002" y2="278.20000000000005" stroke="#333" stroke-width="0.8"/>
<line x1="128.77333333333334" y1="273.6" x2="128.77333333333334" y2="276.20000000000005" stroke="#333" stroke-width="0.8"/>
<line x1="133.84666666666666" y1="273.6" x2="133.84666666666666" y2="276.20000000000005" stroke="#333" stroke-width="0.8"/>
<line x1="138.92000000000002" y1="273.6" x2="138.92000000000002" y2="276.20000000000005" stroke="#333" stroke-width="0.8"/>
<line x1="143.99333333333334" y1="273.6" x2="143.99333333333334" y2="276.20000000000005" stroke="#333" stroke-width="0.8"/>
<line x1="149.0666666666667" y1="273.6" x2="149.0666666666667" y2="278.20000000000005" stroke="#333" stroke-width="0.8"/>
<line x1="154.14000000000001" y1="273.6" x2="154.14000000000001" y2="276.20000000000005" stroke="#333" stroke-width="0.8"/>
<line x1="159.21333333333337" y1="273.6" x2="159.21333333333337" y2="276.20000000000005" stroke="#333" stroke-width="0.8"/>
<line x1="164.2866666666667" y1="273.6" x2="164.2866666666667" y2="276.20000000000005" stroke="#333" stroke-width="0.8"/>
<line x1="169.36" y1="273.6" x2="169.36" y2="276.20000000000005" stroke="#333" stroke-width="0.8"/>
<line x1="174.43333333333334" y1="273.6" x2="174.43333333333334" y2="278.20000000000005" stroke="#333" stroke-width="0.8"/>
<line x1="179.50666666666666" y1="273.6" x2="179.50666666666666" y2="276.20000000000005" stroke="#333" stroke-width="0.8"/>
<line x1="184.58" y1="273.6" x2="184.58" y2="276.20000000000005" stroke="#333" stroke-width="0.8"/>
<line x1="189.65333333333334" y1="273.6" x2="189.65333333333334" y2="276.20000000000005" stroke="#333" stroke-width="0.8"/>
<line x1="194.72666666666666" y1="273.6" x2="194.72666666666666" y2="276.20000000000005" stroke="#333" stroke-width="0.8"/>
<line x1="199.8" y1="273.6" x2="199.8" y2="278.20000000000005" stroke="#333" stroke-width="0.8"/>
<text x="47.6" y="287.5" style="font-family:'Liberation Serif',serif;font-size:7.2px;font-weight:normal" fill="#444" text-anchor="middle"  stroke="#444" stroke-width="0.05">5.0</text>
<text x="73.0" y="287.5" style="font-family:'Liberation Serif',serif;font-size:7.2px;font-weight:normal" fill="#444" text-anchor="middle"  stroke="#444" stroke-width="0.05">5.5</text>
<text x="98.3" y="287.5" style="font-family:'Liberation Serif',serif;font-size:7.2px;font-weight:normal" fill="#444" text-anchor="middle"  stroke="#444" stroke-width="0.05">6.0</text>
<text x="123.7" y="287.5" style="font-family:'Liberation Serif',serif;font-size:7.2px;font-weight:normal" fill="#444" text-anchor="middle"  stroke="#444" stroke-width="0.05">6.5</text>
<text x="149.1" y="287.5" style="font-family:'Liberation Serif',serif;font-size:7.2px;font-weight:normal" fill="#444" text-anchor="middle"  stroke="#444" stroke-width="0.05">7.0</text>
<text x="174.4" y="287.5" style="font-family:'Liberation Serif',serif;font-size:7.2px;font-weight:normal" fill="#444" text-anchor="middle"  stroke="#444" stroke-width="0.05">7.5</text>
<text x="199.8" y="287.5" style="font-family:'Liberation Serif',serif;font-size:7.2px;font-weight:normal" fill="#444" text-anchor="middle"  stroke="#444" stroke-width="0.05">8.0</text>
<text x="124.10000000000001" y="300.6" style="font-family:'Liberation Serif',serif;font-size:7px" fill="#333" text-anchor="middle">x10<tspan dy="-3" font-size="5.5">8</tspan></text>
<rect x="318.8" y="266.1" width="152.7" height="7.2999999999999545" fill="url(#cbar)" stroke="#333" stroke-width="0.6"/>
<line x1="318.8" y1="273.4" x2="318.8" y2="278.0" stroke="#333" stroke-width="0.8"/>
<line x1="323.89" y1="273.4" x2="323.89" y2="276.0" stroke="#333" stroke-width="0.8"/>
<line x1="328.98" y1="273.4" x2="328.98" y2="276.0" stroke="#333" stroke-width="0.8"/>
<line x1="334.07" y1="273.4" x2="334.07" y2="276.0" stroke="#333" stroke-width="0.8"/>
<line x1="339.16" y1="273.4" x2="339.16" y2="276.0" stroke="#333" stroke-width="0.8"/>
<line x1="344.25" y1="273.4" x2="344.25" y2="278.0" stroke="#333" stroke-width="0.8"/>
<line x1="349.34000000000003" y1="273.4" x2="349.34000000000003" y2="276.0" stroke="#333" stroke-width="0.8"/>
<line x1="354.43" y1="273.4" x2="354.43" y2="276.0" stroke="#333" stroke-width="0.8"/>
<line x1="359.52" y1="273.4" x2="359.52" y2="276.0" stroke="#333" stroke-width="0.8"/>
<line x1="364.61" y1="273.4" x2="364.61" y2="276.0" stroke="#333" stroke-width="0.8"/>
<line x1="369.7" y1="273.4" x2="369.7" y2="278.0" stroke="#333" stroke-width="0.8"/>
<line x1="374.79" y1="273.4" x2="374.79" y2="276.0" stroke="#333" stroke-width="0.8"/>
<line x1="379.88" y1="273.4" x2="379.88" y2="276.0" stroke="#333" stroke-width="0.8"/>
<line x1="384.97" y1="273.4" x2="384.97" y2="276.0" stroke="#333" stroke-width="0.8"/>
<line x1="390.06" y1="273.4" x2="390.06" y2="276.0" stroke="#333" stroke-width="0.8"/>
<line x1="395.15" y1="273.4" x2="395.15" y2="278.0" stroke="#333" stroke-width="0.8"/>
<line x1="400.24" y1="273.4" x2="400.24" y2="276.0" stroke="#333" stroke-width="0.8"/>
<line x1="405.33" y1="273.4" x2="405.33" y2="276.0" stroke="#333" stroke-width="0.8"/>
<line x1="410.42" y1="273.4" x2="410.42" y2="276.0" stroke="#333" stroke-width="0.8"/>
<line x1="415.51" y1="273.4" x2="415.51" y2="276.0" stroke="#333" stroke-width="0.8"/>
<line x1="420.6" y1="273.4" x2="420.6" y2="278.0" stroke="#333" stroke-width="0.8"/>
<line x1="425.69" y1="273.4" x2="425.69" y2="276.0" stroke="#333" stroke-width="0.8"/>
<line x1="430.78" y1="273.4" x2="430.78" y2="276.0" stroke="#333" stroke-width="0.8"/>
<line x1="435.87" y1="273.4" x2="435.87" y2="276.0" stroke="#333" stroke-width="0.8"/>
<line x1="440.96000000000004" y1="273.4" x2="440.96000000000004" y2="276.0" stroke="#333" stroke-width="0.8"/>
<line x1="446.05" y1="273.4" x2="446.05" y2="278.0" stroke="#333" stroke-width="0.8"/>
<line x1="451.14" y1="273.4" x2="451.14" y2="276.0" stroke="#333" stroke-width="0.8"/>
<line x1="456.23" y1="273.4" x2="456.23" y2="276.0" stroke="#333" stroke-width="0.8"/>
<line x1="461.32" y1="273.4" x2="461.32" y2="276.0" stroke="#333" stroke-width="0.8"/>
<line x1="466.40999999999997" y1="273.4" x2="466.40999999999997" y2="276.0" stroke="#333" stroke-width="0.8"/>
<line x1="471.5" y1="273.4" x2="471.5" y2="278.0" stroke="#333" stroke-width="0.8"/>
<text x="318.8" y="287.5" style="font-family:'Liberation Serif',serif;font-size:7.2px;font-weight:normal" fill="#444" text-anchor="middle"  stroke="#444" stroke-width="0.05">5.0</text>
<text x="344.2" y="287.5" style="font-family:'Liberation Serif',serif;font-size:7.2px;font-weight:normal" fill="#444" text-anchor="middle"  stroke="#444" stroke-width="0.05">5.5</text>
<text x="369.7" y="287.5" style="font-family:'Liberation Serif',serif;font-size:7.2px;font-weight:normal" fill="#444" text-anchor="middle"  stroke="#444" stroke-width="0.05">6.0</text>
<text x="395.1" y="287.5" style="font-family:'Liberation Serif',serif;font-size:7.2px;font-weight:normal" fill="#444" text-anchor="middle"  stroke="#444" stroke-width="0.05">6.5</text>
<text x="420.6" y="287.5" style="font-family:'Liberation Serif',serif;font-size:7.2px;font-weight:normal" fill="#444" text-anchor="middle"  stroke="#444" stroke-width="0.05">7.0</text>
<text x="446.1" y="287.5" style="font-family:'Liberation Serif',serif;font-size:7.2px;font-weight:normal" fill="#444" text-anchor="middle"  stroke="#444" stroke-width="0.05">7.5</text>
<text x="471.5" y="287.5" style="font-family:'Liberation Serif',serif;font-size:7.2px;font-weight:normal" fill="#444" text-anchor="middle"  stroke="#444" stroke-width="0.05">8.0</text>
<text x="395.54999999999995" y="300.6" style="font-family:'Liberation Serif',serif;font-size:7px" fill="#333" text-anchor="middle">x10<tspan dy="-3" font-size="5.5">8</tspan></text>
<text x="4" y="314" style="font-family:'Liberation Sans',sans-serif;font-size:11px;font-weight:bold" fill="#000" text-anchor="start" >B</text>
<text transform="translate(13,364.2) rotate(-90)" x="0" y="0" style="font-family:'Liberation Serif',serif;font-size:11px" fill="#111" text-anchor="middle" textLength="80" lengthAdjust="spacingAndGlyphs" stroke="#111" stroke-width="0.28">&#916; Ankle thickness</text>
<text transform="translate(26.8,364.2) rotate(-90)" x="0" y="0" style="font-family:'Liberation Serif',serif;font-size:11px" fill="#111" text-anchor="middle" textLength="58.5" lengthAdjust="spacingAndGlyphs" stroke="#111" stroke-width="0.28">(x 0.01 mm)</text>
<line x1="50" y1="320.8" x2="50" y2="415.5" stroke="#000" stroke-width="1.3"/>
<line x1="49.4" y1="412.5" x2="188.3" y2="412.5" stroke="#000" stroke-width="1.3"/>
<line x1="47" y1="407.8" x2="50" y2="407.8" stroke="#000" stroke-width="1.2"/>
<text x="44" y="410.9" style="font-family:'Liberation Serif',serif;font-size:9px;font-weight:normal" fill="#111" text-anchor="end"  stroke="#111" stroke-width="0.26">0</text>
<line x1="47" y1="393.583" x2="50" y2="393.583" stroke="#000" stroke-width="1.2"/>
<text x="44" y="396.7" style="font-family:'Liberation Serif',serif;font-size:9px;font-weight:normal" fill="#111" text-anchor="end"  stroke="#111" stroke-width="0.26">15</text>
<line x1="47" y1="379.366" x2="50" y2="379.366" stroke="#000" stroke-width="1.2"/>
<text x="44" y="382.5" style="font-family:'Liberation Serif',serif;font-size:9px;font-weight:normal" fill="#111" text-anchor="end"  stroke="#111" stroke-width="0.26">30</text>
<line x1="47" y1="365.149" x2="50" y2="365.149" stroke="#000" stroke-width="1.2"/>
<text x="44" y="368.2" style="font-family:'Liberation Serif',serif;font-size:9px;font-weight:normal" fill="#111" text-anchor="end"  stroke="#111" stroke-width="0.26">45</text>
<line x1="47" y1="350.932" x2="50" y2="350.932" stroke="#000" stroke-width="1.2"/>
<text x="44" y="354.0" style="font-family:'Liberation Serif',serif;font-size:9px;font-weight:normal" fill="#111" text-anchor="end"  stroke="#111" stroke-width="0.26">60</text>
<line x1="47" y1="336.71500000000003" x2="50" y2="336.71500000000003" stroke="#000" stroke-width="1.2"/>
<text x="44" y="339.8" style="font-family:'Liberation Serif',serif;font-size:9px;font-weight:normal" fill="#111" text-anchor="end"  stroke="#111" stroke-width="0.26">75</text>
<line x1="47" y1="322.49800000000005" x2="50" y2="322.49800000000005" stroke="#000" stroke-width="1.2"/>
<text x="44" y="325.6" style="font-family:'Liberation Serif',serif;font-size:9px;font-weight:normal" fill="#111" text-anchor="end"  stroke="#111" stroke-width="0.26">90</text>
<line x1="50.2" y1="412.5" x2="50.2" y2="415.5" stroke="#000" stroke-width="1.2"/>
<text x="50.2" y="424.2" style="font-family:'Liberation Serif',serif;font-size:9px;font-weight:normal" fill="#111" text-anchor="middle"  stroke="#111" stroke-width="0.26">0</text>
<line x1="84.57" y1="412.5" x2="84.57" y2="415.5" stroke="#000" stroke-width="1.2"/>
<text x="84.6" y="424.2" style="font-family:'Liberation Serif',serif;font-size:9px;font-weight:normal" fill="#111" text-anchor="middle"  stroke="#111" stroke-width="0.26">1</text>
<line x1="118.94" y1="412.5" x2="118.94" y2="415.5" stroke="#000" stroke-width="1.2"/>
<text x="118.9" y="424.2" style="font-family:'Liberation Serif',serif;font-size:9px;font-weight:normal" fill="#111" text-anchor="middle"  stroke="#111" stroke-width="0.26">2</text>
<line x1="153.31" y1="412.5" x2="153.31" y2="415.5" stroke="#000" stroke-width="1.2"/>
<text x="153.3" y="424.2" style="font-family:'Liberation Serif',serif;font-size:9px;font-weight:normal" fill="#111" text-anchor="middle"  stroke="#111" stroke-width="0.26">3</text>
<line x1="187.68" y1="412.5" x2="187.68" y2="415.5" stroke="#000" stroke-width="1.2"/>
<text x="187.7" y="424.2" style="font-family:'Liberation Serif',serif;font-size:9px;font-weight:normal" fill="#111" text-anchor="middle"  stroke="#111" stroke-width="0.26">4</text>
<polyline points="50.0,407.6 84.4,409.5 119,392.9 153.2,381.4 187.7,362.9" fill="none" stroke="#000" stroke-width="1.4"/>
<line x1="119" y1="385.7" x2="119" y2="389.5" stroke="#000" stroke-width="1.2"/>
<line x1="119" y1="396.29999999999995" x2="119" y2="399.3" stroke="#000" stroke-width="1.2"/>
<line x1="115.5" y1="385.7" x2="122.5" y2="385.7" stroke="#000" stroke-width="1.2"/>
<line x1="115.5" y1="399.3" x2="122.5" y2="399.3" stroke="#000" stroke-width="1.2"/>
<line x1="153.2" y1="372.4" x2="153.2" y2="378.0" stroke="#000" stroke-width="1.2"/>
<line x1="153.2" y1="384.79999999999995" x2="153.2" y2="390.5" stroke="#000" stroke-width="1.2"/>
<line x1="149.7" y1="372.4" x2="156.7" y2="372.4" stroke="#000" stroke-width="1.2"/>
<line x1="149.7" y1="390.5" x2="156.7" y2="390.5" stroke="#000" stroke-width="1.2"/>
<line x1="187.7" y1="350.5" x2="187.7" y2="359.5" stroke="#000" stroke-width="1.2"/>
<line x1="187.7" y1="366.29999999999995" x2="187.7" y2="376.2" stroke="#000" stroke-width="1.2"/>
<line x1="184.2" y1="350.5" x2="191.2" y2="350.5" stroke="#000" stroke-width="1.2"/>
<line x1="184.2" y1="376.2" x2="191.2" y2="376.2" stroke="#000" stroke-width="1.2"/>
<polyline points="50.0,407.0 84.5,388 119,350.5 153.2,341.4 187.7,326.7" fill="none" stroke="#000" stroke-width="1.4"/>
<line x1="84.5" y1="382.6" x2="84.5" y2="384.6" stroke="#000" stroke-width="1.2"/>
<line x1="84.5" y1="391.4" x2="84.5" y2="393.3" stroke="#000" stroke-width="1.2"/>
<line x1="81.0" y1="382.6" x2="88.0" y2="382.6" stroke="#000" stroke-width="1.2"/>
<line x1="81.0" y1="393.3" x2="88.0" y2="393.3" stroke="#000" stroke-width="1.2"/>
<line x1="119" y1="345.7" x2="119" y2="347.1" stroke="#000" stroke-width="1.2"/>
<line x1="119" y1="353.9" x2="119" y2="354" stroke="#000" stroke-width="1.2"/>
<line x1="115.5" y1="345.7" x2="122.5" y2="345.7" stroke="#000" stroke-width="1.2"/>
<line x1="115.5" y1="354" x2="122.5" y2="354" stroke="#000" stroke-width="1.2"/>
<line x1="153.2" y1="336.7" x2="153.2" y2="338.0" stroke="#000" stroke-width="1.2"/>
<line x1="153.2" y1="344.79999999999995" x2="153.2" y2="345.7" stroke="#000" stroke-width="1.2"/>
<line x1="149.7" y1="336.7" x2="156.7" y2="336.7" stroke="#000" stroke-width="1.2"/>
<line x1="149.7" y1="345.7" x2="156.7" y2="345.7" stroke="#000" stroke-width="1.2"/>
<line x1="187.7" y1="321.2" x2="187.7" y2="323.3" stroke="#000" stroke-width="1.2"/>
<line x1="187.7" y1="330.09999999999997" x2="187.7" y2="331.9" stroke="#000" stroke-width="1.2"/>
<line x1="184.2" y1="321.2" x2="191.2" y2="321.2" stroke="#000" stroke-width="1.2"/>
<line x1="184.2" y1="331.9" x2="191.2" y2="331.9" stroke="#000" stroke-width="1.2"/>
<rect x="47.1" y="404.70000000000005" width="5.8" height="5.8" fill="none" stroke="#000" stroke-width="1.25"/>
<rect x="81.5" y="406.6" width="5.8" height="5.8" fill="none" stroke="#000" stroke-width="1.25"/>
<rect x="116.1" y="390.0" width="5.8" height="5.8" fill="none" stroke="#000" stroke-width="1.25"/>
<rect x="150.29999999999998" y="378.5" width="5.8" height="5.8" fill="none" stroke="#000" stroke-width="1.25"/>
<rect x="184.79999999999998" y="360.0" width="5.8" height="5.8" fill="none" stroke="#000" stroke-width="1.25"/>
<circle cx="50.0" cy="407.0" r="3.3" fill="#000" stroke="none" stroke-width="0"/>
<circle cx="84.5" cy="388" r="3.3" fill="#000" stroke="none" stroke-width="0"/>
<circle cx="119" cy="350.5" r="3.3" fill="#000" stroke="none" stroke-width="0"/>
<circle cx="153.2" cy="341.4" r="3.3" fill="#000" stroke="none" stroke-width="0"/>
<circle cx="187.7" cy="326.7" r="3.3" fill="#000" stroke="none" stroke-width="0"/>
<line x1="57.2" y1="319.8" x2="68.8" y2="319.8" stroke="#000" stroke-width="1.3"/>
<circle cx="63.1" cy="319.8" r="3.1" fill="#000" stroke="none" stroke-width="0"/>
<text x="76" y="323.2" style="font-family:'Liberation Serif',serif;font-size:9px;font-weight:normal" fill="#111" text-anchor="start" textLength="33.3" lengthAdjust="spacingAndGlyphs"  stroke="#111" stroke-width="0.26">with PLT</text>
<line x1="57.2" y1="330.4" x2="68.8" y2="330.4" stroke="#000" stroke-width="1.3"/>
<rect x="59.9" y="327.8" width="6.1" height="5.2" rx="0.8" fill="none" stroke="#000" stroke-width="1.2"/>
<text x="76" y="334.2" style="font-family:'Liberation Serif',serif;font-size:9px;font-weight:normal" fill="#111" text-anchor="start" textLength="47.6" lengthAdjust="spacingAndGlyphs"  stroke="#111" stroke-width="0.26">PLT-depleted</text>
<polygon points="46.8,429.3 49.8,438.3 47.55,438.3 47.55,441 46.05,441 46.05,438.3 43.8,438.3" fill="#000"/>
<path d="M51.4,435.5 L53.8,431.5 L56.199999999999996,435.5 M53.8,430.9 L53.8,440.6" stroke="#000" stroke-width="1.3" fill="none" stroke-linejoin="round"/>
<circle cx="53.8" cy="432.5" r="1.3" fill="#000"/>
<polygon points="119,429.3 122,438.3 119.75,438.3 119.75,441 118.25,441 118.25,438.3 116,438.3" fill="#000"/>
<path d="M150.79999999999998,435.5 L153.2,431.5 L155.6,435.5 M153.2,430.9 L153.2,440.6" stroke="#000" stroke-width="1.3" fill="none" stroke-linejoin="round"/>
<circle cx="153.2" cy="432.5" r="1.3" fill="#000"/>
<text x="122" y="456.3" style="font-family:'Liberation Serif',serif;font-size:11.5px;font-weight:normal" fill="#111" text-anchor="middle" textLength="19.4" lengthAdjust="spacingAndGlyphs"  stroke="#111" stroke-width="0.26">Day</text>
<text x="267.5" y="318.7" style="font-family:'Liberation Sans',sans-serif;font-size:11px;font-weight:bold" fill="#000" text-anchor="start" >D</text>
<text transform="translate(294.6,364.2) rotate(-90)" x="0" y="0" style="font-family:'Liberation Serif',serif;font-size:11px" fill="#111" text-anchor="middle" textLength="80" lengthAdjust="spacingAndGlyphs" stroke="#111" stroke-width="0.28">&#916; Ankle thickness</text>
<text transform="translate(306.4,364.2) rotate(-90)" x="0" y="0" style="font-family:'Liberation Serif',serif;font-size:11px" fill="#111" text-anchor="middle" textLength="58.5" lengthAdjust="spacingAndGlyphs" stroke="#111" stroke-width="0.28">(x 0.01 mm)</text>
<line x1="331" y1="321.6" x2="331" y2="415.8" stroke="#000" stroke-width="1.3"/>
<line x1="330.4" y1="412.9" x2="469.3" y2="412.9" stroke="#000" stroke-width="1.3"/>
<line x1="328" y1="406.4" x2="331" y2="406.4" stroke="#000" stroke-width="1.2"/>
<text x="325.3" y="409.5" style="font-family:'Liberation Serif',serif;font-size:9px;font-weight:normal" fill="#111" text-anchor="end"  stroke="#111" stroke-width="0.26">0</text>
<line x1="328" y1="392.88" x2="331" y2="392.88" stroke="#000" stroke-width="1.2"/>
<text x="325.3" y="396.0" style="font-family:'Liberation Serif',serif;font-size:9px;font-weight:normal" fill="#111" text-anchor="end"  stroke="#111" stroke-width="0.26">10</text>
<line x1="328" y1="379.35999999999996" x2="331" y2="379.35999999999996" stroke="#000" stroke-width="1.2"/>
<text x="325.3" y="382.5" style="font-family:'Liberation Serif',serif;font-size:9px;font-weight:normal" fill="#111" text-anchor="end"  stroke="#111" stroke-width="0.26">20</text>
<line x1="328" y1="365.84" x2="331" y2="365.84" stroke="#000" stroke-width="1.2"/>
<text x="325.3" y="368.9" style="font-family:'Liberation Serif',serif;font-size:9px;font-weight:normal" fill="#111" text-anchor="end"  stroke="#111" stroke-width="0.26">30</text>
<line x1="328" y1="352.32" x2="331" y2="352.32" stroke="#000" stroke-width="1.2"/>
<text x="325.3" y="355.4" style="font-family:'Liberation Serif',serif;font-size:9px;font-weight:normal" fill="#111" text-anchor="end"  stroke="#111" stroke-width="0.26">40</text>
<line x1="328" y1="338.79999999999995" x2="331" y2="338.79999999999995" stroke="#000" stroke-width="1.2"/>
<text x="325.3" y="341.9" style="font-family:'Liberation Serif',serif;font-size:9px;font-weight:normal" fill="#111" text-anchor="end"  stroke="#111" stroke-width="0.26">50</text>
<line x1="328" y1="325.28" x2="331" y2="325.28" stroke="#000" stroke-width="1.2"/>
<text x="325.3" y="328.4" style="font-family:'Liberation Serif',serif;font-size:9px;font-weight:normal" fill="#111" text-anchor="end"  stroke="#111" stroke-width="0.26">60</text>
<line x1="331.4" y1="412.9" x2="331.4" y2="415.9" stroke="#000" stroke-width="1.2"/>
<text x="331.4" y="424.2" style="font-family:'Liberation Serif',serif;font-size:9px;font-weight:normal" fill="#111" text-anchor="middle"  stroke="#111" stroke-width="0.26">0</text>
<line x1="365.7" y1="412.9" x2="365.7" y2="415.9" stroke="#000" stroke-width="1.2"/>
<text x="365.7" y="424.2" style="font-family:'Liberation Serif',serif;font-size:9px;font-weight:normal" fill="#111" text-anchor="middle"  stroke="#111" stroke-width="0.26">1</text>
<line x1="400.0" y1="412.9" x2="400.0" y2="415.9" stroke="#000" stroke-width="1.2"/>
<text x="400.0" y="424.2" style="font-family:'Liberation Serif',serif;font-size:9px;font-weight:normal" fill="#111" text-anchor="middle"  stroke="#111" stroke-width="0.26">2</text>
<line x1="434.29999999999995" y1="412.9" x2="434.29999999999995" y2="415.9" stroke="#000" stroke-width="1.2"/>
<text x="434.3" y="424.2" style="font-family:'Liberation Serif',serif;font-size:9px;font-weight:normal" fill="#111" text-anchor="middle"  stroke="#111" stroke-width="0.26">3</text>
<line x1="468.59999999999997" y1="412.9" x2="468.59999999999997" y2="415.9" stroke="#000" stroke-width="1.2"/>
<text x="468.6" y="424.2" style="font-family:'Liberation Serif',serif;font-size:9px;font-weight:normal" fill="#111" text-anchor="middle"  stroke="#111" stroke-width="0.26">4</text>
<polyline points="331.4,405.7 366,387.5 400.2,371.4 434.5,354 468.8,333.2" fill="none" stroke="#000" stroke-width="1.4"/>
<line x1="366" y1="380.4" x2="366" y2="384.1" stroke="#000" stroke-width="1.2"/>
<line x1="366" y1="390.9" x2="366" y2="398.2" stroke="#000" stroke-width="1.2"/>
<line x1="362.5" y1="380.4" x2="369.5" y2="380.4" stroke="#000" stroke-width="1.2"/>
<line x1="362.5" y1="398.2" x2="369.5" y2="398.2" stroke="#000" stroke-width="1.2"/>
<line x1="400.2" y1="360.1" x2="400.2" y2="368.0" stroke="#000" stroke-width="1.2"/>
<line x1="400.2" y1="374.79999999999995" x2="400.2" y2="381.9" stroke="#000" stroke-width="1.2"/>
<line x1="396.7" y1="360.1" x2="403.7" y2="360.1" stroke="#000" stroke-width="1.2"/>
<line x1="396.7" y1="381.9" x2="403.7" y2="381.9" stroke="#000" stroke-width="1.2"/>
<line x1="434.5" y1="341.6" x2="434.5" y2="350.6" stroke="#000" stroke-width="1.2"/>
<line x1="434.5" y1="357.4" x2="434.5" y2="367.6" stroke="#000" stroke-width="1.2"/>
<line x1="431.0" y1="341.6" x2="438.0" y2="341.6" stroke="#000" stroke-width="1.2"/>
<line x1="431.0" y1="367.6" x2="438.0" y2="367.6" stroke="#000" stroke-width="1.2"/>
<line x1="468.8" y1="321.1" x2="468.8" y2="329.8" stroke="#000" stroke-width="1.2"/>
<line x1="468.8" y1="336.59999999999997" x2="468.8" y2="345.8" stroke="#000" stroke-width="1.2"/>
<line x1="465.3" y1="321.1" x2="472.3" y2="321.1" stroke="#000" stroke-width="1.2"/>
<line x1="465.3" y1="345.8" x2="472.3" y2="345.8" stroke="#000" stroke-width="1.2"/>
<polyline points="331.4,405.7 366,390.5 400.2,367.9 434.5,348.5 468.8,328" fill="none" stroke="#000" stroke-width="1.4"/>
<line x1="366" y1="380.4" x2="366" y2="387.1" stroke="#000" stroke-width="1.2"/>
<line x1="366" y1="393.9" x2="366" y2="398.2" stroke="#000" stroke-width="1.2"/>
<line x1="362.5" y1="380.4" x2="369.5" y2="380.4" stroke="#000" stroke-width="1.2"/>
<line x1="362.5" y1="398.2" x2="369.5" y2="398.2" stroke="#000" stroke-width="1.2"/>
<line x1="400.2" y1="357.7" x2="400.2" y2="364.5" stroke="#000" stroke-width="1.2"/>
<line x1="400.2" y1="371.29999999999995" x2="400.2" y2="375.6" stroke="#000" stroke-width="1.2"/>
<line x1="396.7" y1="357.7" x2="403.7" y2="357.7" stroke="#000" stroke-width="1.2"/>
<line x1="396.7" y1="375.6" x2="403.7" y2="375.6" stroke="#000" stroke-width="1.2"/>
<line x1="434.5" y1="333.8" x2="434.5" y2="345.1" stroke="#000" stroke-width="1.2"/>
<line x1="434.5" y1="351.9" x2="434.5" y2="362.8" stroke="#000" stroke-width="1.2"/>
<line x1="431.0" y1="333.8" x2="438.0" y2="333.8" stroke="#000" stroke-width="1.2"/>
<line x1="431.0" y1="362.8" x2="438.0" y2="362.8" stroke="#000" stroke-width="1.2"/>
<line x1="468.8" y1="321.1" x2="468.8" y2="324.6" stroke="#000" stroke-width="1.2"/>
<line x1="468.8" y1="331.4" x2="468.8" y2="335" stroke="#000" stroke-width="1.2"/>
<line x1="465.3" y1="321.1" x2="472.3" y2="321.1" stroke="#000" stroke-width="1.2"/>
<line x1="465.3" y1="335" x2="472.3" y2="335" stroke="#000" stroke-width="1.2"/>
<rect x="328.5" y="402.8" width="5.8" height="5.8" fill="none" stroke="#000" stroke-width="1.25"/>
<rect x="363.1" y="384.6" width="5.8" height="5.8" fill="none" stroke="#000" stroke-width="1.25"/>
<rect x="397.3" y="368.5" width="5.8" height="5.8" fill="none" stroke="#000" stroke-width="1.25"/>
<rect x="431.6" y="351.1" width="5.8" height="5.8" fill="none" stroke="#000" stroke-width="1.25"/>
<rect x="465.90000000000003" y="330.3" width="5.8" height="5.8" fill="none" stroke="#000" stroke-width="1.25"/>
<circle cx="331.4" cy="405.7" r="3.3" fill="#000" stroke="none" stroke-width="0"/>
<circle cx="366" cy="390.5" r="3.3" fill="#000" stroke="none" stroke-width="0"/>
<circle cx="400.2" cy="367.9" r="3.3" fill="#000" stroke="none" stroke-width="0"/>
<circle cx="434.5" cy="348.5" r="3.3" fill="#000" stroke="none" stroke-width="0"/>
<circle cx="468.8" cy="328" r="3.3" fill="#000" stroke="none" stroke-width="0"/>
<line x1="334.3" y1="321.9" x2="345.7" y2="321.9" stroke="#000" stroke-width="1.3"/>
<circle cx="340" cy="321.9" r="2.9" fill="#000" stroke="none" stroke-width="0"/>
<text x="352.6" y="325.1" style="font-family:'Liberation Serif',serif;font-size:9px;font-weight:normal" fill="#111" text-anchor="start" textLength="32.2" lengthAdjust="spacingAndGlyphs"  stroke="#111" stroke-width="0.26">with PLT</text>
<line x1="334.3" y1="333.3" x2="345.7" y2="333.3" stroke="#000" stroke-width="1.3"/>
<rect x="336.9" y="330.7" width="6.1" height="5.2" rx="0.8" fill="none" stroke="#000" stroke-width="1.2"/>
<text x="351.6" y="336.5" style="font-family:'Liberation Serif',serif;font-size:9px;font-weight:normal" fill="#111" text-anchor="start" textLength="77.8" lengthAdjust="spacingAndGlyphs"  stroke="#111" stroke-width="0.26">PLT-depleted + IL-1&#946;</text>
<path d="M323.3,436.0 L326.8,430.7 L330.3,436.0 M325.35,433.0 L325.35,440.6 M328.25,433.0 L328.25,440.6" stroke="#000" stroke-width="1.15" fill="none" stroke-linejoin="round"/>
<polygon points="333.8,429.3 336.8,438.3 334.55,438.3 334.55,441 333.05,441 333.05,438.3 330.8,438.3" fill="#000"/>
<path d="M339.1,435.5 L341.5,431.5 L343.9,435.5 M341.5,430.9 L341.5,440.6" stroke="#000" stroke-width="1.3" fill="none" stroke-linejoin="round"/>
<circle cx="341.5" cy="432.5" r="1.3" fill="#000"/>
<path d="M362.7,436.0 L366.2,430.7 L369.7,436.0 M364.75,433.0 L364.75,440.6 M367.65,433.0 L367.65,440.6" stroke="#000" stroke-width="1.15" fill="none" stroke-linejoin="round"/>
<path d="M393.5,436.0 L397,430.7 L400.5,436.0 M395.55,433.0 L395.55,440.6 M398.45,433.0 L398.45,440.6" stroke="#000" stroke-width="1.15" fill="none" stroke-linejoin="round"/>
<polygon points="406,429.3 409,438.3 406.75,438.3 406.75,441 405.25,441 405.25,438.3 403,438.3" fill="#000"/>
<path d="M432.1,435.5 L434.5,431.5 L436.9,435.5 M434.5,430.9 L434.5,440.6" stroke="#000" stroke-width="1.3" fill="none" stroke-linejoin="round"/>
<circle cx="434.5" cy="432.5" r="1.3" fill="#000"/>
<text x="404.6" y="456.3" style="font-family:'Liberation Serif',serif;font-size:11.5px;font-weight:normal" fill="#111" text-anchor="middle" textLength="18.6" lengthAdjust="spacingAndGlyphs"  stroke="#111" stroke-width="0.26">Day</text>
</svg></body></html>
